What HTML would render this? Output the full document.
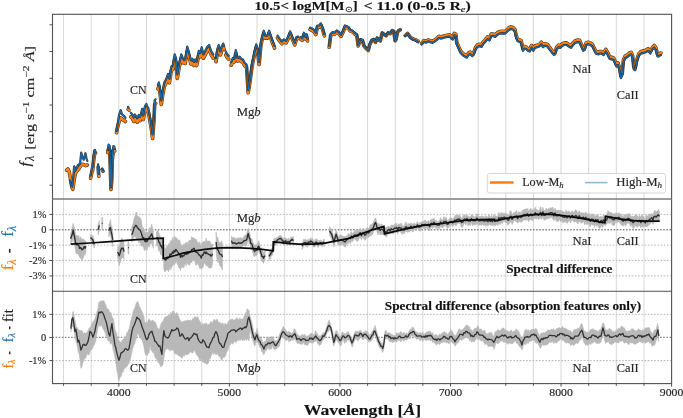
<!DOCTYPE html><html><head><meta charset="utf-8"><style>html,body{margin:0;padding:0;background:#fff;}body{width:683px;height:418px;overflow:hidden;font-family:"Liberation Serif",serif;}svg{display:block;will-change:transform;}</style></head><body><svg width="683" height="418" viewBox="0 0 683 418"><g stroke="#bdbdbd" stroke-width="1.0" stroke-dasharray="1.2,0.8"><line x1="63.56" y1="14.3" x2="63.56" y2="383.6" /><line x1="91.19" y1="14.3" x2="91.19" y2="383.6" /><line x1="118.83" y1="14.3" x2="118.83" y2="383.6" /><line x1="146.47" y1="14.3" x2="146.47" y2="383.6" /><line x1="174.11" y1="14.3" x2="174.11" y2="383.6" /><line x1="201.75" y1="14.3" x2="201.75" y2="383.6" /><line x1="229.39" y1="14.3" x2="229.39" y2="383.6" /><line x1="257.02" y1="14.3" x2="257.02" y2="383.6" /><line x1="284.66" y1="14.3" x2="284.66" y2="383.6" /><line x1="312.3" y1="14.3" x2="312.3" y2="383.6" /><line x1="339.94" y1="14.3" x2="339.94" y2="383.6" /><line x1="367.58" y1="14.3" x2="367.58" y2="383.6" /><line x1="395.22" y1="14.3" x2="395.22" y2="383.6" /><line x1="422.85" y1="14.3" x2="422.85" y2="383.6" /><line x1="450.49" y1="14.3" x2="450.49" y2="383.6" /><line x1="478.13" y1="14.3" x2="478.13" y2="383.6" /><line x1="505.77" y1="14.3" x2="505.77" y2="383.6" /><line x1="533.41" y1="14.3" x2="533.41" y2="383.6" /><line x1="561.05" y1="14.3" x2="561.05" y2="383.6" /><line x1="588.68" y1="14.3" x2="588.68" y2="383.6" /><line x1="616.32" y1="14.3" x2="616.32" y2="383.6" /><line x1="643.96" y1="14.3" x2="643.96" y2="383.6" /></g><g stroke="#b0b0b0" stroke-width="0.9" stroke-dasharray="1.6,1.6"><line x1="52.5" y1="214.38" x2="671.6" y2="214.38"/><line x1="52.5" y1="245.15" x2="671.6" y2="245.15"/><line x1="52.5" y1="260.53" x2="671.6" y2="260.53"/><line x1="52.5" y1="275.92" x2="671.6" y2="275.92"/><line x1="52.5" y1="314.38" x2="671.6" y2="314.38"/><line x1="52.5" y1="360.53" x2="671.6" y2="360.53"/></g><g stroke="#888" stroke-width="1.3" stroke-dasharray="1.6,1.5"><line x1="52.5" y1="229.77" x2="671.6" y2="229.77"/><line x1="52.5" y1="337.45" x2="671.6" y2="337.45"/></g><g fill="none" stroke-linejoin="round" stroke-linecap="round"><path d="M66.6 170.3 L67.9 169 L69.2 171.6 L70.6 179.5 L71.9 187.4 L72.8 189.3 L73.8 182.1 L75.2 173.6 L76.5 171.6 L78.4 169.6 L80.4 166.3 L81.7 164.3 L83 164.3 L84.4 165 L85.7 165.7 L87.3 165 M90.6 178.2 L91.9 172 L92.6 170.5 L93.2 165 L94.2 156 L95 152.5 L95.5 153 M98.1 167 L98.8 176.2 M102.1 169.5 L103.1 171.3 M107.7 152.5 L108.6 149 L109.7 150 L110.4 170 L111 189.4 L111.7 181 L112.3 160 L113.4 150 L114.3 150 L114.7 151 M116.5 132.8 L117.4 128 L119 122 L120.7 117.8 L122.4 119.4 L124.9 121.1 L125.4 121.5 M128.2 109.4 L128.9 110 M130.8 116.7 L132.4 118.4 L133.8 121.5 L135 118.5 L136.2 120.5 L137.3 122.2 L138.8 119 L140.2 120.5 L141.2 117 L142.2 112.8 L143.3 119.5 L144.2 114 L145 110 L146.3 108 L147.3 110.5 L148.4 112.5 L149.5 118.4 L151.2 128 L152.6 138.5 L153.9 120.9 L154.7 104.2 L155.6 103.3 M157.9 89 L158.9 86.5 L160.1 93.5 L161.3 104.5 L162.6 95.5 L164.3 86.5 L166.2 83 L168 77.8 L169.4 82.8 L171.3 70.6 L173 69.1 L174.7 58.4 L176.1 62.7 L177.3 78.5 L179.2 67 L181.3 58.4 L183 62.7 L185.2 63.4 L187.3 50.5 L189.5 58.4 L190.9 64.1 L192.4 62.7 L193.8 65.5 L195.2 63.4 L196.7 65.5 L198.8 54.8 L200.3 56.89 L201.7 51.16 L203.4 58.31 L205.3 54.67 L207.5 50.31 L209.2 48.77 L211 54.52 L213.2 58.07 M216 61.6 L217.5 52.16 L218.7 48.53 L220.4 54.99 L221.8 49.95 L223.2 47.02 L224.2 49.4 M225.7 54.86 L226.9 57.03 L228.6 59.19 M231.2 65.22 L232.9 61.18 L234.4 61.84 L235.8 53.2 L237.5 61.06 L239.4 59.62 L241.3 61.67 L243 62.32 L244.7 65.88 L246.6 67.33 L248.2 92.8 L250.2 80.15 L251.9 67.2 L253.8 57.76 L256.2 46.99 L257.6 51.26 L259.1 64.52 L260.9 45.39 L262.4 38.17 L263.8 33.15 L265.2 38.14 L267.4 38.11 L269.1 33.09 L271 38.86 L272.9 43.84 L274.6 48.12 M277.5 37.98 L279.6 40.86 L281.8 43.73 L283.9 41.5 L286.1 42.97 L288.2 38.65 L290.1 33.52 L291.8 37.8 L293.3 41.38 L294.7 44.97 L296.5 39.04 L297.9 38.53 M300.5 38.99 L302.2 40.38 L303.9 34.66 L305.3 38.94 L306.5 36.03 L307.6 41.02 M310.1 29.49 L312 30.27 L314 31.64 L315.8 34.52 L317.3 27.31 L319.1 27.29 L320.9 25.07 L322.6 29.35 L324.4 35.83 M329.2 47.28 L330.6 35.76 L332.6 33.64 L334.5 34.32 L336.7 32.09 L338.8 33.57 L341 36.34 L343.1 32.02 L345 27 L346.7 27.64 L348.4 28.28 L350.3 31.11 L352.5 31.73 L354.6 33.85 L356.8 35.17 L358.2 45.92 L360.4 40.04 L362.5 40.76 L364.2 46.4 L366.1 48.53 L368.2 50.55 L369.7 44.79 L371.8 40.42 L374 39.54 L375.5 42.39 L377.2 38.06 L378.9 40.24 L380.3 40.92 L382.2 32.98 L384.1 34.35 L386.1 35.72 L388 32.89 L390.1 33.56 L392.3 30.62 L393.7 31.3 L395.1 40.68 L396.1 39.16 L397.3 32.74 L398.7 30.52 L400.2 29.8 M405.2 35.5 L407.6 33.4 L410.2 37 L413.1 39.1 L416 39.9 L418.1 41.3 M421.7 43.4 L423.9 40.6 L426 41.3 L428.2 39.9 L430.3 40.6 L432.5 41.3 L434.6 39.9 L436.8 38.4 L438.9 36.3 L441.1 37 L443.2 36.3 L446.1 35.5 L449.7 34.8 L451.5 37 L452.9 37.7 L454.3 33.4 L455.8 34.1 L456.8 42.7 L458.2 45.6 L459.4 48.5 L460.8 51.3 L463 53.5 L465.1 54.9 L466.8 55.7 L468.7 52.8 L470.1 52.1 L472.3 54.2 L473.7 52.8 L475.4 47.8 L477.3 44.9 L479.5 44.2 L481.6 44.9 L483.1 42 L485.2 39.9 L487.4 37 L489.5 38.4 L491.2 34.1 L493.1 34.1 L495.3 34.8 L497.4 32.7 L499.6 31.5 L502.5 31.2 L505.3 31.5 L508.2 28.4 L510.8 26.9 L513.2 27.6 L515.1 29.8 L516.1 35.5 L517.5 39.1 L519.7 39.9 L521.1 40.6 L522.9 48.7 L524.6 46.5 L526.5 47.2 L527.9 48.7 L529.8 49.4 L531.5 45.5 L533.2 48.7 L535.1 45.8 L537.2 45.1 L539.4 44.4 L541.3 42.2 L543 45.1 L545.1 43.6 L547.3 44.4 L549.4 47.2 L551.6 50.1 L553.8 52.7 L555.2 52.3 L556.6 47.2 L558.5 45.1 L560.2 45.8 L562.4 43.6 L564.5 42.9 L566.7 42.9 L568.8 44.4 L571 45.8 L573.1 42.9 L575.3 40.8 L577.5 40.1 L579.6 40.3 L581 43.6 L583.2 48.7 L584.6 48 L586.1 42.9 L588.2 42.2 L590.4 42.9 L592.5 44.4 L594.4 48.7 L596.1 51.5 L598.3 52.3 L600 51.5 L601.5 51.5 L603.6 53 L605.8 49.4 L607.9 53 L609.4 56.6 L611.5 57.3 L613.7 58 L615.1 61.6 L616.5 64.5 L618 63 L619.4 67.3 L620.9 76 L622.3 73.1 L623.4 60.2 L625.2 55.9 L627.3 55.1 L629.5 53 L631.2 52.3 L632.6 55.9 L633.8 67.3 L635.2 68.1 L636.7 60.2 L638.8 53.7 L641 51.5 L643.8 50.8 L646 50.1 L648.1 48.7 L650.3 51.5 L652.5 47.2 L654.2 45.5 L656 48 L657.5 54.4 L658.9 54.4 L660.4 53 L661 53" stroke="#2e2418" stroke-opacity="0.9" stroke-width="3.6"/><path d="M66.6 170.3 L67.9 169 L69.2 171.6 L70.6 179.5 L71.9 187.4 L72.8 189.3 L73.8 182.1 L75.2 173.6 L76.5 171.6 L78.4 169.6 L80.4 166.3 L81.7 164.3 L83 164.3 L84.4 165 L85.7 165.7 L87.3 165 M90.6 178.2 L91.9 172 L92.6 170.5 L93.2 165 L94.2 156 L95 152.5 L95.5 153 M98.1 167 L98.8 176.2 M102.1 169.5 L103.1 171.3 M107.7 152.5 L108.6 149 L109.7 150 L110.4 170 L111 189.4 L111.7 181 L112.3 160 L113.4 150 L114.3 150 L114.7 151 M116.5 132.8 L117.4 128 L119 122 L120.7 117.8 L122.4 119.4 L124.9 121.1 L125.4 121.5 M128.2 109.4 L128.9 110 M130.8 116.7 L132.4 118.4 L133.8 121.5 L135 118.5 L136.2 120.5 L137.3 122.2 L138.8 119 L140.2 120.5 L141.2 117 L142.2 112.8 L143.3 119.5 L144.2 114 L145 110 L146.3 108 L147.3 110.5 L148.4 112.5 L149.5 118.4 L151.2 128 L152.6 138.5 L153.9 120.9 L154.7 104.2 L155.6 103.3 M157.9 89 L158.9 86.5 L160.1 93.5 L161.3 104.5 L162.6 95.5 L164.3 86.5 L166.2 83 L168 77.8 L169.4 82.8 L171.3 70.6 L173 69.1 L174.7 58.4 L176.1 62.7 L177.3 78.5 L179.2 67 L181.3 58.4 L183 62.7 L185.2 63.4 L187.3 50.5 L189.5 58.4 L190.9 64.1 L192.4 62.7 L193.8 65.5 L195.2 63.4 L196.7 65.5 L198.8 54.8 L200.3 56.89 L201.7 51.16 L203.4 58.31 L205.3 54.67 L207.5 50.31 L209.2 48.77 L211 54.52 L213.2 58.07 M216 61.6 L217.5 52.16 L218.7 48.53 L220.4 54.99 L221.8 49.95 L223.2 47.02 L224.2 49.4 M225.7 54.86 L226.9 57.03 L228.6 59.19 M231.2 65.22 L232.9 61.18 L234.4 61.84 L235.8 53.2 L237.5 61.06 L239.4 59.62 L241.3 61.67 L243 62.32 L244.7 65.88 L246.6 67.33 L248.2 92.8 L250.2 80.15 L251.9 67.2 L253.8 57.76 L256.2 46.99 L257.6 51.26 L259.1 64.52 L260.9 45.39 L262.4 38.17 L263.8 33.15 L265.2 38.14 L267.4 38.11 L269.1 33.09 L271 38.86 L272.9 43.84 L274.6 48.12 M277.5 37.98 L279.6 40.86 L281.8 43.73 L283.9 41.5 L286.1 42.97 L288.2 38.65 L290.1 33.52 L291.8 37.8 L293.3 41.38 L294.7 44.97 L296.5 39.04 L297.9 38.53 M300.5 38.99 L302.2 40.38 L303.9 34.66 L305.3 38.94 L306.5 36.03 L307.6 41.02 M310.1 29.49 L312 30.27 L314 31.64 L315.8 34.52 L317.3 27.31 L319.1 27.29 L320.9 25.07 L322.6 29.35 L324.4 35.83 M329.2 47.28 L330.6 35.76 L332.6 33.64 L334.5 34.32 L336.7 32.09 L338.8 33.57 L341 36.34 L343.1 32.02 L345 27 L346.7 27.64 L348.4 28.28 L350.3 31.11 L352.5 31.73 L354.6 33.85 L356.8 35.17 L358.2 45.92 L360.4 40.04 L362.5 40.76 L364.2 46.4 L366.1 48.53 L368.2 50.55 L369.7 44.79 L371.8 40.42 L374 39.54 L375.5 42.39 L377.2 38.06 L378.9 40.24 L380.3 40.92 L382.2 32.98 L384.1 34.35 L386.1 35.72 L388 32.89 L390.1 33.56 L392.3 30.62 L393.7 31.3 L395.1 40.68 L396.1 39.16 L397.3 32.74 L398.7 30.52 L400.2 29.8 M405.2 35.5 L407.6 33.4 L410.2 37 L413.1 39.1 L416 39.9 L418.1 41.3 M421.7 43.4 L423.9 40.6 L426 41.3 L428.2 39.9 L430.3 40.6 L432.5 41.3 L434.6 39.9 L436.8 38.4 L438.9 36.3 L441.1 37 L443.2 36.3 L446.1 35.5 L449.7 34.8 L451.5 37 L452.9 37.7 L454.3 33.4 L455.8 34.1 L456.8 42.7 L458.2 45.6 L459.4 48.5 L460.8 51.3 L463 53.5 L465.1 54.9 L466.8 55.7 L468.7 52.8 L470.1 52.1 L472.3 54.2 L473.7 52.8 L475.4 47.8 L477.3 44.9 L479.5 44.2 L481.6 44.9 L483.1 42 L485.2 39.9 L487.4 37 L489.5 38.4 L491.2 34.1 L493.1 34.1 L495.3 34.8 L497.4 32.7 L499.6 31.5 L502.5 31.2 L505.3 31.5 L508.2 28.4 L510.8 26.9 L513.2 27.6 L515.1 29.8 L516.1 35.5 L517.5 39.1 L519.7 39.9 L521.1 40.6 L522.9 48.7 L524.6 46.5 L526.5 47.2 L527.9 48.7 L529.8 49.4 L531.5 45.5 L533.2 48.7 L535.1 45.8 L537.2 45.1 L539.4 44.4 L541.3 42.2 L543 45.1 L545.1 43.6 L547.3 44.4 L549.4 47.2 L551.6 50.1 L553.8 52.7 L555.2 52.3 L556.6 47.2 L558.5 45.1 L560.2 45.8 L562.4 43.6 L564.5 42.9 L566.7 42.9 L568.8 44.4 L571 45.8 L573.1 42.9 L575.3 40.8 L577.5 40.1 L579.6 40.3 L581 43.6 L583.2 48.7 L584.6 48 L586.1 42.9 L588.2 42.2 L590.4 42.9 L592.5 44.4 L594.4 48.7 L596.1 51.5 L598.3 52.3 L600 51.5 L601.5 51.5 L603.6 53 L605.8 49.4 L607.9 53 L609.4 56.6 L611.5 57.3 L613.7 58 L615.1 61.6 L616.5 64.5 L618 63 L619.4 67.3 L620.9 76 L622.3 73.1 L623.4 60.2 L625.2 55.9 L627.3 55.1 L629.5 53 L631.2 52.3 L632.6 55.9 L633.8 67.3 L635.2 68.1 L636.7 60.2 L638.8 53.7 L641 51.5 L643.8 50.8 L646 50.1 L648.1 48.7 L650.3 51.5 L652.5 47.2 L654.2 45.5 L656 48 L657.5 54.4 L658.9 54.4 L660.4 53 L661 53" stroke="#ff7f0e" stroke-width="2.4"/><path d="M69.9 180.5 L71.2 185 L72.2 186.5 L73.2 178.2 L74.1 166.3 L75.1 171 L76.5 167.5 L77.6 165.8 L78.7 164.4 L80.1 163.7 L81.2 152.5 L82.4 157.1 L83.7 159.7 L85.4 153.2 L86.5 158.5 L87.3 161 M90.6 175.6 L91.9 167.7 L92.6 167 L93.2 159.8 L94.2 150.5 L95 149.9 L95.5 152.5 M98.1 164.4 L98.8 174 M102.1 168.7 L103.1 170.5 M107.7 150 L108.6 144.6 L109.7 146 L110.4 166 L111 187.5 L111.7 179 L112.3 156 L113.4 146 L114.3 146.6 L114.7 149 M116.5 131 L117.4 125.3 L119 115.2 L120.7 110.2 L122 114.4 L123.2 115.2 L124.9 116.9 L125.4 117.8 M127.9 106.9 L128.6 107.5 M130.8 112.7 L132.4 114.4 L133.8 117.5 L135 114.5 L136.2 116.5 L137.3 118.2 L138.8 115 L140.2 116.5 L141.2 113 L142.2 108.8 L143.3 115.5 L144.2 110 L145 106 L146.3 104 L147.3 106.5 L148.4 108.5 L149.5 114.4 L151.2 124 L152.6 134.5 L153.9 116.9 L154.7 100.2 L155.6 99.3 M157.9 85 L158.9 82.5 L160.1 89.5 L161.3 100.5 L162.6 91.5 L164.3 82.5 L166.2 79 L168 73.8 L169.4 78.8 L171.3 66.6 L173 65.1 L174.7 54.4 L176.1 58.7 L177.3 74.5 L179.2 63 L181.3 54.4 L183 58.7 L185.2 59.4 L187.3 46.5 L189.5 54.4 L190.9 60.1 L192.4 58.7 L193.8 61.5 L195.2 59.4 L196.7 61.5 L198.8 50.8 L200.3 52.9 L201.7 47.2 L203.4 54.4 L205.3 50.8 L207.5 46.5 L209.2 45 L211 50.8 L213.2 54.4 M216 58 L217.5 48.6 L218.7 45 L220.4 51.5 L221.8 46.5 L223.2 43.6 L224.2 46 M225.7 51.5 L226.9 53.7 L228.6 55.9 M231.2 62 L232.9 58 L234.4 58.7 L235.8 50.1 L237.5 58 L239.4 56.6 L241.3 58.7 L243 59.4 L244.7 63 L246.6 64.5 L248.2 90 L250.2 77.4 L251.9 64.5 L253.8 55.1 L256.2 44.4 L257.6 48.7 L259.1 62 L260.9 42.9 L262.4 35.7 L263.8 30.7 L265.2 35.7 L267.4 35.7 L269.1 30.7 L271 36.5 L272.9 41.5 L274.6 45.8 M277.5 35.7 L279.6 38.6 L281.8 41.5 L283.9 39.3 L286.1 40.8 L288.2 36.5 L290.1 31.4 L291.8 35.7 L293.3 39.3 L294.7 42.9 L296.5 37 L297.9 36.5 M300.5 37 L302.2 38.4 L303.9 32.7 L305.3 37 L306.5 34.1 L307.6 39.1 M310.1 27.6 L312 28.4 L314 29.8 L315.8 32.7 L317.3 25.5 L319.1 25.5 L320.9 23.3 L322.6 27.6 L324.4 34.1 M329.2 45.6 L330.6 34.1 L332.6 32 L334.5 32.7 L336.7 30.5 L338.8 32 L341 34.8 L343.1 30.5 L345 25.5 L346.7 26.2 L348.4 26.9 L350.3 29.8 L352.5 30.5 L354.6 32.7 L356.8 34.1 L358.2 44.9 L360.4 39.1 L362.5 39.9 L364.2 45.6 L366.1 47.8 L368.2 49.9 L369.7 44.2 L371.8 39.9 L374 39.1 L375.5 42 L377.2 37.7 L378.9 39.9 L380.3 40.6 L382.2 32.7 L384.1 34.1 L386.1 35.5 L388 32.7 L390.1 33.4 L392.3 30.5 L393.7 31.2 L395.1 40.6 L396.1 39.1 L397.3 32.7 L398.7 30.5 L400.2 29.81 M405.2 35.78 L407.6 33.81 L410.2 37.54 L413.1 39.8 L416 40.75 L418.1 42.27 M421.7 44.56 L423.9 41.87 L426 42.69 L428.2 41.4 L430.3 42.2 L432.5 42.92 L434.6 41.55 L436.8 40.07 L438.9 37.99 L441.1 38.71 L443.2 38.03 L446.1 37.26 L449.7 36.6 L451.5 38.81 L452.9 39.53 L454.3 35.24 L455.8 35.96 L456.8 44.57 L458.2 47.48 L459.4 50.39 L460.8 53.21 L463 55.43 L465.1 56.85 L466.8 57.67 L468.7 54.79 L470.1 54.1 L472.3 56.22 L473.7 54.84 L475.4 49.85 L477.3 46.97 L479.5 46.3 L481.6 47 L483.1 44.1 L485.2 42 L487.4 39.1 L489.5 40.5 L491.2 36.2 L493.1 36.2 L495.3 36.9 L497.4 34.8 L499.6 33.6 L502.5 33.3 L505.3 33.6 L508.2 30.5 L510.8 29 L513.2 29.7 L515.1 31.9 L516.1 37.6 L517.5 41.2 L519.7 42 L521.1 42.7 L522.9 50.8 L524.6 48.6 L526.5 49.3 L527.9 50.8 L529.8 51.5 L531.5 47.6 L533.2 50.8 L535.1 47.9 L537.2 47.2 L539.4 46.5 L541.3 44.3 L543 47.2 L545.1 45.7 L547.3 46.5 L549.4 49.3 L551.6 52.2 L553.8 54.8 L555.2 54.4 L556.6 49.3 L558.5 47.2 L560.2 47.9 L562.4 45.7 L564.5 45 L566.7 45 L568.8 46.5 L571 47.9 L573.1 45 L575.3 42.9 L577.5 42.2 L579.6 42.4 L581 45.7 L583.2 50.8 L584.6 50.1 L586.1 45 L588.2 44.3 L590.4 45 L592.5 46.5 L594.4 50.8 L596.1 53.6 L598.3 54.4 L600 53.6 L601.5 53.6 L603.6 55.1 L605.8 51.5 L607.9 55.1 L609.4 58.7 L611.5 59.4 L613.7 60.1 L615.1 63.7 L616.5 66.6 L618 65.1 L619.4 69.4 L620.9 78.1 L622.3 75.2 L623.4 62.3 L625.2 58 L627.3 57.2 L629.5 55.1 L631.2 54.4 L632.6 58 L633.8 69.4 L635.2 70.2 L636.7 62.3 L638.8 55.8 L641 53.6 L643.8 52.9 L646 52.2 L648.1 50.8 L650.3 53.6 L652.5 49.3 L654.2 47.6 L656 50.1 L657.5 56.5 L658.9 56.5 L660.4 55.1 L661 55.1" stroke="#1c2530" stroke-opacity="0.9" stroke-width="2.2"/><path d="M69.9 180.5 L71.2 185 L72.2 186.5 L73.2 178.2 L74.1 166.3 L75.1 171 L76.5 167.5 L77.6 165.8 L78.7 164.4 L80.1 163.7 L81.2 152.5 L82.4 157.1 L83.7 159.7 L85.4 153.2 L86.5 158.5 L87.3 161 M90.6 175.6 L91.9 167.7 L92.6 167 L93.2 159.8 L94.2 150.5 L95 149.9 L95.5 152.5 M98.1 164.4 L98.8 174 M102.1 168.7 L103.1 170.5 M107.7 150 L108.6 144.6 L109.7 146 L110.4 166 L111 187.5 L111.7 179 L112.3 156 L113.4 146 L114.3 146.6 L114.7 149 M116.5 131 L117.4 125.3 L119 115.2 L120.7 110.2 L122 114.4 L123.2 115.2 L124.9 116.9 L125.4 117.8 M127.9 106.9 L128.6 107.5 M130.8 112.7 L132.4 114.4 L133.8 117.5 L135 114.5 L136.2 116.5 L137.3 118.2 L138.8 115 L140.2 116.5 L141.2 113 L142.2 108.8 L143.3 115.5 L144.2 110 L145 106 L146.3 104 L147.3 106.5 L148.4 108.5 L149.5 114.4 L151.2 124 L152.6 134.5 L153.9 116.9 L154.7 100.2 L155.6 99.3 M157.9 85 L158.9 82.5 L160.1 89.5 L161.3 100.5 L162.6 91.5 L164.3 82.5 L166.2 79 L168 73.8 L169.4 78.8 L171.3 66.6 L173 65.1 L174.7 54.4 L176.1 58.7 L177.3 74.5 L179.2 63 L181.3 54.4 L183 58.7 L185.2 59.4 L187.3 46.5 L189.5 54.4 L190.9 60.1 L192.4 58.7 L193.8 61.5 L195.2 59.4 L196.7 61.5 L198.8 50.8 L200.3 52.9 L201.7 47.2 L203.4 54.4 L205.3 50.8 L207.5 46.5 L209.2 45 L211 50.8 L213.2 54.4 M216 58 L217.5 48.6 L218.7 45 L220.4 51.5 L221.8 46.5 L223.2 43.6 L224.2 46 M225.7 51.5 L226.9 53.7 L228.6 55.9 M231.2 62 L232.9 58 L234.4 58.7 L235.8 50.1 L237.5 58 L239.4 56.6 L241.3 58.7 L243 59.4 L244.7 63 L246.6 64.5 L248.2 90 L250.2 77.4 L251.9 64.5 L253.8 55.1 L256.2 44.4 L257.6 48.7 L259.1 62 L260.9 42.9 L262.4 35.7 L263.8 30.7 L265.2 35.7 L267.4 35.7 L269.1 30.7 L271 36.5 L272.9 41.5 L274.6 45.8 M277.5 35.7 L279.6 38.6 L281.8 41.5 L283.9 39.3 L286.1 40.8 L288.2 36.5 L290.1 31.4 L291.8 35.7 L293.3 39.3 L294.7 42.9 L296.5 37 L297.9 36.5 M300.5 37 L302.2 38.4 L303.9 32.7 L305.3 37 L306.5 34.1 L307.6 39.1 M310.1 27.6 L312 28.4 L314 29.8 L315.8 32.7 L317.3 25.5 L319.1 25.5 L320.9 23.3 L322.6 27.6 L324.4 34.1 M329.2 45.6 L330.6 34.1 L332.6 32 L334.5 32.7 L336.7 30.5 L338.8 32 L341 34.8 L343.1 30.5 L345 25.5 L346.7 26.2 L348.4 26.9 L350.3 29.8 L352.5 30.5 L354.6 32.7 L356.8 34.1 L358.2 44.9 L360.4 39.1 L362.5 39.9 L364.2 45.6 L366.1 47.8 L368.2 49.9 L369.7 44.2 L371.8 39.9 L374 39.1 L375.5 42 L377.2 37.7 L378.9 39.9 L380.3 40.6 L382.2 32.7 L384.1 34.1 L386.1 35.5 L388 32.7 L390.1 33.4 L392.3 30.5 L393.7 31.2 L395.1 40.6 L396.1 39.1 L397.3 32.7 L398.7 30.5 L400.2 29.81 M405.2 35.78 L407.6 33.81 L410.2 37.54 L413.1 39.8 L416 40.75 L418.1 42.27 M421.7 44.56 L423.9 41.87 L426 42.69 L428.2 41.4 L430.3 42.2 L432.5 42.92 L434.6 41.55 L436.8 40.07 L438.9 37.99 L441.1 38.71 L443.2 38.03 L446.1 37.26 L449.7 36.6 L451.5 38.81 L452.9 39.53 L454.3 35.24 L455.8 35.96 L456.8 44.57 L458.2 47.48 L459.4 50.39 L460.8 53.21 L463 55.43 L465.1 56.85 L466.8 57.67 L468.7 54.79 L470.1 54.1 L472.3 56.22 L473.7 54.84 L475.4 49.85 L477.3 46.97 L479.5 46.3 L481.6 47 L483.1 44.1 L485.2 42 L487.4 39.1 L489.5 40.5 L491.2 36.2 L493.1 36.2 L495.3 36.9 L497.4 34.8 L499.6 33.6 L502.5 33.3 L505.3 33.6 L508.2 30.5 L510.8 29 L513.2 29.7 L515.1 31.9 L516.1 37.6 L517.5 41.2 L519.7 42 L521.1 42.7 L522.9 50.8 L524.6 48.6 L526.5 49.3 L527.9 50.8 L529.8 51.5 L531.5 47.6 L533.2 50.8 L535.1 47.9 L537.2 47.2 L539.4 46.5 L541.3 44.3 L543 47.2 L545.1 45.7 L547.3 46.5 L549.4 49.3 L551.6 52.2 L553.8 54.8 L555.2 54.4 L556.6 49.3 L558.5 47.2 L560.2 47.9 L562.4 45.7 L564.5 45 L566.7 45 L568.8 46.5 L571 47.9 L573.1 45 L575.3 42.9 L577.5 42.2 L579.6 42.4 L581 45.7 L583.2 50.8 L584.6 50.1 L586.1 45 L588.2 44.3 L590.4 45 L592.5 46.5 L594.4 50.8 L596.1 53.6 L598.3 54.4 L600 53.6 L601.5 53.6 L603.6 55.1 L605.8 51.5 L607.9 55.1 L609.4 58.7 L611.5 59.4 L613.7 60.1 L615.1 63.7 L616.5 66.6 L618 65.1 L619.4 69.4 L620.9 78.1 L622.3 75.2 L623.4 62.3 L625.2 58 L627.3 57.2 L629.5 55.1 L631.2 54.4 L632.6 58 L633.8 69.4 L635.2 70.2 L636.7 62.3 L638.8 55.8 L641 53.6 L643.8 52.9 L646 52.2 L648.1 50.8 L650.3 53.6 L652.5 49.3 L654.2 47.6 L656 50.1 L657.5 56.5 L658.9 56.5 L660.4 55.1 L661 55.1" stroke="#1d6aa3" stroke-width="1.25"/></g><path d="M70.7 233.28 L71.5 230.43 L72.3 226.8 L73.1 223.45 L73.9 226.28 L74.7 229.12 L75.5 234.24 L76.3 235.48 L77.1 235.25 L77.9 236.15 L78.7 235.36 L79.5 239.64 L80.3 236.57 L81.1 239.11 L81.9 238.48 L82.7 239.66 L83.5 238.65 L84.3 240.15 L85.1 241.23 L85.9 240.82 L85.9 251.83 L85.1 255.36 L84.3 253.06 L83.5 257.53 L82.7 258.99 L81.9 261.21 L81.1 257.11 L80.3 258.59 L79.5 257.17 L78.7 255.21 L77.9 253.59 L77.1 253.63 L76.3 254.08 L75.5 250.77 L74.7 246.11 L73.9 241.75 L73.1 236.2 L72.3 241.72 L71.5 241.93 L70.7 244.15Z M90.5 234.5 L92.7 235.7 L94.3 240.2 L94.3 248.2 L92.7 243.7 L90.5 240.5Z M98 224.8 L99.4 220.4 L99.4 230.4 L98 234.8Z M101.8 217.2 L102.6 217.5 L102.6 229.5 L101.8 229.2Z M108.8 224.83 L109.6 222.7 L110.4 219.5 L111.2 225.06 L112 227.33 L112.8 232.65 L112.8 246.86 L112 243.05 L111.2 238.88 L110.4 235.45 L109.6 234.63 L108.8 236.68Z M117.6 246.93 L118.4 246.39 L119.2 246.05 L120 243.4 L120.8 239.68 L121.6 238.02 L122.4 239.19 L123.2 239.78 L124 243.83 L124 259.39 L123.2 256.42 L122.4 257.9 L121.6 258.36 L120.8 260.31 L120 263.42 L119.2 265.68 L118.4 260.61 L117.6 256.95Z M128 241.5 L128.8 242 L128.8 254 L128 253.5Z M131.7 227.35 L132.5 224.7 L133.3 222.45 L134.1 218.12 L134.9 216.91 L135.7 213.1 L136.5 212.03 L137.3 215.59 L138.1 217.12 L138.9 216.21 L139.7 217.8 L140.5 217.92 L141.3 220.19 L142.1 225.79 L142.9 229.12 L143.7 227.61 L144.5 230.24 L145.3 233.33 L146.1 231.44 L146.9 232.93 L147.7 232.22 L148.5 231.91 L149.3 227.55 L150.1 228.93 L150.9 227.71 L151.7 224.01 L152.5 227.59 L153.3 230.73 L153.3 248.45 L152.5 245.12 L151.7 243.53 L150.9 242.74 L150.1 244.57 L149.3 246.72 L148.5 245.97 L147.7 247.95 L146.9 250.66 L146.1 247.37 L145.3 250.01 L144.5 250.8 L143.7 247.76 L142.9 246.69 L142.1 245.87 L141.3 246.03 L140.5 243.87 L139.7 241.65 L138.9 242.92 L138.1 239.23 L137.3 239.92 L136.5 239.65 L135.7 237.53 L134.9 236.27 L134.1 236.94 L133.3 238.75 L132.5 241.22 L131.7 242.16Z M156.5 232 L157.3 231.25 L158.1 229.8 L158.9 233.27 L159.7 235.45 L160.5 236.53 L161.3 239.1 L162.1 241.29 L162.1 256.04 L161.3 252.48 L160.5 254.9 L159.7 250.02 L158.9 251.3 L158.1 248.56 L157.3 244.02 L156.5 245.65Z M163.7 248.51 L164.5 246.22 L165.3 248.82 L166.1 248.75 L166.9 245.14 L167.7 246.89 L168.5 243.52 L169.3 244.74 L170.1 241.99 L170.9 240.29 L171.7 241.01 L172.5 237.62 L173.3 241.88 L174.1 236.24 L174.9 239.72 L175.7 236.81 L176.5 238.54 L177.3 238.54 L178.1 240.36 L178.9 240.27 L179.7 239.85 L180.5 243.79 L181.3 245.22 L182.1 245.66 L182.9 244.73 L183.7 244.02 L184.5 244.46 L185.3 242.72 L186.1 242.75 L186.9 241.88 L187.7 243.66 L188.5 241.34 L189.3 240.56 L190.1 240.59 L190.9 240.48 L191.7 236.55 L192.5 238.2 L193.3 237.19 L194.1 238.08 L194.9 239.79 L195.7 238.72 L196.5 239.57 L197.3 242.37 L198.1 242.02 L198.9 244.47 L199.7 241.77 L200.5 244.7 L201.3 247.09 L202.1 242.06 L202.9 242.97 L203.7 241.27 L204.5 241.03 L205.3 243.31 L206.1 237.89 L206.9 241.68 L207.7 240.92 L208.5 240.76 L209.3 241.54 L210.1 241.07 L210.9 244.38 L211.7 243.91 L212.5 243.96 L212.5 263.43 L211.7 267.59 L210.9 267.95 L210.1 268 L209.3 268.17 L208.5 267.62 L207.7 265.98 L206.9 265.54 L206.1 265.8 L205.3 263.81 L204.5 263 L203.7 264.6 L202.9 267.86 L202.1 267.67 L201.3 269.3 L200.5 267.99 L199.7 268.29 L198.9 265.55 L198.1 264.99 L197.3 262.74 L196.5 265.13 L195.7 265.08 L194.9 261.09 L194.1 258.32 L193.3 261.03 L192.5 259.98 L191.7 262.94 L190.9 261.74 L190.1 263.58 L189.3 265.23 L188.5 264.83 L187.7 264.26 L186.9 262.49 L186.1 266.31 L185.3 263.21 L184.5 265.05 L183.7 268.04 L182.9 265.98 L182.1 268.1 L181.3 265.67 L180.5 270.79 L179.7 268.44 L178.9 268.01 L178.1 264.2 L177.3 264.82 L176.5 261.31 L175.7 262.26 L174.9 264.23 L174.1 264.89 L173.3 264.61 L172.5 266.29 L171.7 266.87 L170.9 270.01 L170.1 265.92 L169.3 269.68 L168.5 271.91 L167.7 270.12 L166.9 269.86 L166.1 270.5 L165.3 271.58 L164.5 271.9 L163.7 267.84Z M216.1 231.8 L216.9 239.56 L217.7 236.83 L218.5 241.32 L219.3 241.89 L220.1 242.53 L220.9 242.9 L221.7 241.24 L222.5 243.85 L222.5 270.16 L221.7 268.45 L220.9 266.24 L220.1 266.11 L219.3 264.48 L218.5 260.56 L217.7 262.32 L216.9 258.38 L216.1 252.25Z M231.5 236.13 L232.3 237.38 L233.1 238.14 L233.9 237.1 L234.7 237.98 L235.5 239.1 L236.3 239.07 L237.1 237.79 L237.9 239.18 L238.7 237.44 L239.5 237.96 L240.3 237.46 L241.1 237.65 L241.9 238.87 L242.7 237.98 L243.5 237.25 L244.3 235.99 L245.1 234.88 L245.9 234.78 L246.7 234.13 L247.5 229.51 L248.3 228.21 L249.1 231.42 L249.9 233.64 L250.7 239.24 L251.5 238.19 L252.3 239.57 L253.1 242.83 L253.9 244.34 L254.7 246.29 L255.5 244.85 L256.3 244 L257.1 246.03 L257.9 242.79 L258.7 240.67 L259.5 243.18 L260.3 246.9 L261.1 247.45 L261.9 251.08 L262.7 250.52 L263.5 252.92 L264.3 251.83 L265.1 250.81 L265.1 260.37 L264.3 261.11 L263.5 263.43 L262.7 262.28 L261.9 261.39 L261.1 259.55 L260.3 254.83 L259.5 253.32 L258.7 251.62 L257.9 251.2 L257.1 254.52 L256.3 256.03 L255.5 255.08 L254.7 256.6 L253.9 256.19 L253.1 253.81 L252.3 250.61 L251.5 249.2 L250.7 247.34 L249.9 244.07 L249.1 243.63 L248.3 238.85 L247.5 241.76 L246.7 245.51 L245.9 246.11 L245.1 246.11 L244.3 245.19 L243.5 245.15 L242.7 246.31 L241.9 247.14 L241.1 247.8 L240.3 249.01 L239.5 248.14 L238.7 247.76 L237.9 247.44 L237.1 249.01 L236.3 249.03 L235.5 247.31 L234.7 248.12 L233.9 248.2 L233.1 248.42 L232.3 248.9 L231.5 245.09Z M268.9 252.16 L269.7 250.95 L270.5 250.08 L271.3 248.68 L272.1 248.34 L272.9 244.34 L273.7 239.95 L274.5 237.76 L275.3 238.67 L276.1 237.88 L276.9 237.41 L277.7 237.35 L278.5 236.26 L279.3 235.78 L280.1 235.43 L280.9 235.42 L281.7 236.51 L282.5 237.34 L283.3 238.83 L284.1 237.62 L284.9 238.57 L285.7 237.61 L286.5 239.01 L287.3 239.14 L288.1 238.97 L288.9 238.34 L289.7 240.32 L290.5 237.2 L291.3 237.38 L292.1 236.72 L292.9 237.06 L293.7 236.68 L293.7 244.07 L292.9 243.37 L292.1 241.76 L291.3 243.4 L290.5 243.92 L289.7 245.29 L288.9 244.84 L288.1 244.35 L287.3 245.01 L286.5 245.09 L285.7 243.98 L284.9 244.72 L284.1 245.1 L283.3 244.42 L282.5 243.2 L281.7 243.2 L280.9 241.94 L280.1 241.41 L279.3 241.88 L278.5 242.23 L277.7 242.1 L276.9 244.15 L276.1 244.29 L275.3 245.76 L274.5 245.26 L273.7 249.35 L272.9 253.8 L272.1 255.93 L271.3 255.93 L270.5 258.8 L269.7 259.33 L268.9 260.73Z M302 242.98 L302.8 241.7 L303.6 239.3 L304.4 240.31 L305.2 238.7 L306 240.41 L306.8 239.48 L307.6 240.63 L308.4 239.31 L309.2 239.54 L310 239.16 L310.8 237.59 L311.6 239.35 L312.4 238.5 L313.2 239.56 L314 242.64 L314.8 239.96 L315.6 238.93 L316.4 239 L317.2 239.2 L318 241.48 L318.8 240.33 L319.6 240.52 L320.4 240.06 L321.2 240.22 L322 241.76 L322.8 240.82 L323.6 239.44 L324.4 239.52 L324.4 246.73 L323.6 245.22 L322.8 245.82 L322 246.78 L321.2 245.68 L320.4 245.45 L319.6 245.4 L318.8 245.87 L318 247.68 L317.2 246.23 L316.4 245.39 L315.6 246.03 L314.8 246.82 L314 247.4 L313.2 246.42 L312.4 245.58 L311.6 244.17 L310.8 244.56 L310 245.15 L309.2 244.36 L308.4 244.95 L307.6 247.34 L306.8 246.4 L306 246.58 L305.2 246.1 L304.4 245.24 L303.6 246.73 L302.8 247.72 L302 249.34Z M329.5 226.53 L330.6 228.26 L331.7 228.96 L332.8 233.54 L333.9 237.4 L335 233.3 L336.1 230.54 L337.2 232.37 L338.3 237.19 L339.4 235.94 L340.5 234.75 L341.6 235.1 L342.7 236.28 L343.8 236.28 L344.9 236.7 L346 236.06 L347.1 235.98 L348.2 233.28 L349.3 234.64 L350.4 233.23 L351.5 231.53 L352.6 234.06 L353.7 232.08 L354.8 231.27 L355.9 230.18 L357 231.4 L358.1 230.84 L359.2 228.93 L360.3 228.2 L361.4 231.19 L362.5 229.06 L363.6 227.83 L364.7 230.15 L365.8 229.83 L366.9 227.34 L368 228.2 L369.1 228.13 L370.2 224.71 L371.3 224.64 L372.4 223.25 L373.5 222.37 L374.6 219.42 L375.7 217.68 L376.8 222.45 L377.9 224.24 L379 223.21 L380.1 225.79 L381.2 224.04 L382.3 224.42 L383.4 227.11 L384.5 228.81 L385.6 227.53 L386.7 227.34 L387.8 226.66 L388.9 226.27 L390 227.53 L391.1 225.2 L392.2 225.1 L393.3 225.51 L394.4 224.32 L395.5 223.85 L396.6 223.22 L397.7 226.05 L398.8 223.83 L399.9 224.45 L401 222.99 L402.1 225.12 L403.2 225.74 L404.3 226.23 L405.4 222.56 L406.5 222.52 L407.6 225.36 L408.7 223.23 L409.8 224.29 L410.9 222.73 L412 224.24 L413.1 223.72 L414.2 223.29 L415.3 223.93 L416.4 223.78 L417.5 221.35 L418.6 223.91 L419.7 222.71 L420.8 222.32 L421.9 221.69 L423 221.81 L424.1 220.76 L425.2 219.89 L426.3 221.83 L427.4 221.9 L428.5 220.36 L429.6 222.4 L430.7 219.12 L431.8 219.59 L432.9 219.05 L434 218.12 L435.1 220.99 L436.2 220.08 L437.3 221.91 L438.4 221.35 L439.5 221.01 L440.6 217.42 L441.7 219.81 L442.8 219.99 L443.9 216.51 L445 218.65 L446.1 216.68 L447.2 220.44 L448.3 220.14 L449.4 218.32 L450.5 217.23 L451.6 218.16 L452.7 218.95 L453.8 217.82 L454.9 215.33 L456 216.08 L457.1 214.49 L458.2 215.61 L459.3 214.73 L460.4 216.29 L461.5 218.07 L462.6 217.07 L463.7 215.01 L464.8 214.82 L465.9 216.19 L467 214.74 L468.1 216.22 L469.2 216.67 L470.3 216.48 L471.4 214.75 L472.5 215.01 L473.6 216.23 L474.7 216.93 L475.8 216.21 L476.9 213.55 L478 214.66 L479.1 216.69 L480.2 216.52 L481.3 215.85 L482.4 216.57 L483.5 216.19 L484.6 217.3 L485.7 215.44 L486.8 216.47 L487.9 216.98 L489 214.26 L490.1 217.61 L491.2 215.36 L492.3 218 L493.4 214.93 L494.5 215.28 L495.6 215.64 L496.7 216.24 L497.8 216.36 L498.9 212.26 L500 215.11 L501.1 212.31 L502.2 213.08 L503.3 213.16 L504.4 213.43 L505.5 212.8 L506.6 213.83 L507.7 214.89 L508.8 215.73 L509.9 211.13 L511 210.85 L512.1 214.27 L513.2 213.29 L514.3 212.59 L515.4 211.86 L516.5 210.21 L517.6 214.38 L518.7 211.41 L519.8 212.22 L520.9 212.73 L522 211.17 L523.1 209.8 L524.2 209.59 L525.3 209.08 L526.4 208.92 L527.5 208.53 L528.6 210.8 L529.7 209.99 L530.8 208.36 L531.9 210.81 L533 208.85 L534.1 210.63 L535.2 207.36 L536.3 209.34 L537.4 209.93 L538.5 210.58 L539.6 209 L540.7 206.52 L541.8 211.63 L542.9 207.14 L544 210.55 L545.1 210.64 L546.2 208 L547.3 209.74 L548.4 208.34 L549.5 209.02 L550.6 207.27 L551.7 208.37 L552.8 207.11 L553.9 210.99 L555 208.01 L556.1 210.56 L557.2 210.2 L558.3 210.01 L559.4 210.39 L560.5 209.98 L561.6 211.17 L562.7 211.05 L563.8 211.72 L564.9 212.81 L566 210.01 L567.1 212.24 L568.2 211.12 L569.3 211.31 L570.4 212.76 L571.5 211.28 L572.6 210.98 L573.7 212.91 L574.8 210.55 L575.9 209.6 L577 211.29 L578.1 213.37 L579.2 210.5 L580.3 212.92 L581.4 212.66 L582.5 212.86 L583.6 212.89 L584.7 213.16 L585.8 211.94 L586.9 214.02 L588 214.12 L589.1 213.09 L590.2 215.63 L591.3 214.47 L592.4 214.15 L593.5 214 L594.6 216.75 L595.7 214.92 L596.8 215.64 L597.9 214.45 L599 217.22 L600.1 216.78 L601.2 215.93 L602.3 218.17 L603.4 214.63 L604.5 216.16 L605.6 215.41 L606.7 215.45 L607.8 210.53 L608.9 211.52 L610 212.8 L611.1 212.25 L612.2 213.19 L613.3 213.92 L614.4 213.67 L615.5 213.29 L616.6 212.45 L617.7 214.13 L618.8 212.72 L619.9 213.64 L621 214.04 L622.1 215.87 L623.2 216.41 L624.3 214.44 L625.4 215.32 L626.5 214.9 L627.6 213.88 L628.7 213.86 L629.8 213.85 L630.9 216.55 L632 215.95 L633.1 216.72 L634.2 215.88 L635.3 215.33 L636.4 214.58 L637.5 215.64 L638.6 217.3 L639.7 215.05 L640.8 217.35 L641.9 215.1 L643 215.59 L644.1 217.41 L645.2 218.66 L646.3 214.51 L647.4 216.32 L648.5 215.65 L649.6 213.78 L650.7 214.68 L651.8 213.37 L652.9 215.28 L654 211.22 L655.1 210.58 L656.2 211.93 L657.3 210.89 L658.4 209.46 L659.5 211.99 L659.5 220.91 L658.4 220.29 L657.3 220.39 L656.2 222.28 L655.1 221.79 L654 221.84 L652.9 224.35 L651.8 221.95 L650.7 223.18 L649.6 224.83 L648.5 225.25 L647.4 227.05 L646.3 226.37 L645.2 227.24 L644.1 225.45 L643 227.47 L641.9 225.73 L640.8 227.98 L639.7 225.42 L638.6 225.64 L637.5 227.22 L636.4 226.38 L635.3 225.68 L634.2 227.26 L633.1 228.69 L632 225.33 L630.9 226.51 L629.8 224.43 L628.7 223.19 L627.6 222.9 L626.5 224.27 L625.4 226.27 L624.3 224.1 L623.2 225.93 L622.1 225.39 L621 224.67 L619.9 222.91 L618.8 221.85 L617.7 222.27 L616.6 222.77 L615.5 221.78 L614.4 225.56 L613.3 225.54 L612.2 225 L611.1 221.31 L610 223.57 L608.9 223.21 L607.8 222.16 L606.7 224.57 L605.6 225.32 L604.5 224.92 L603.4 225.12 L602.3 227.73 L601.2 224.76 L600.1 228.62 L599 228.14 L597.9 225.05 L596.8 226.58 L595.7 223.97 L594.6 226.88 L593.5 224.97 L592.4 224.9 L591.3 223.98 L590.2 226.88 L589.1 224.44 L588 223.16 L586.9 225.01 L585.8 222.57 L584.7 225.05 L583.6 221.56 L582.5 222.49 L581.4 223.32 L580.3 222.16 L579.2 221.12 L578.1 224.1 L577 222.6 L575.9 221.4 L574.8 221.93 L573.7 222.06 L572.6 219.72 L571.5 220.59 L570.4 223.1 L569.3 220.2 L568.2 221.63 L567.1 223.44 L566 221.98 L564.9 221.74 L563.8 222.38 L562.7 222.74 L561.6 220.16 L560.5 221.95 L559.4 219.06 L558.3 221.52 L557.2 221.69 L556.1 220.84 L555 217.73 L553.9 220.84 L552.8 218.99 L551.7 217.02 L550.6 218.13 L549.5 217.69 L548.4 218.71 L547.3 218.83 L546.2 219.16 L545.1 219.84 L544 220.3 L542.9 216.5 L541.8 219.46 L540.7 218.16 L539.6 218.54 L538.5 219.87 L537.4 217.77 L536.3 219.31 L535.2 218.15 L534.1 218.72 L533 220.23 L531.9 220.55 L530.8 219.47 L529.7 219.85 L528.6 221.93 L527.5 219.02 L526.4 220.39 L525.3 219.88 L524.2 219.81 L523.1 220.14 L522 221.78 L520.9 222.41 L519.8 221.18 L518.7 222.49 L517.6 223.07 L516.5 221.61 L515.4 221.37 L514.3 220.35 L513.2 222.24 L512.1 224.61 L511 221.45 L509.9 222.45 L508.8 224.37 L507.7 225.21 L506.6 222.43 L505.5 222.99 L504.4 220.89 L503.3 221.87 L502.2 223.7 L501.1 222.48 L500 225.07 L498.9 222.87 L497.8 225.73 L496.7 224.19 L495.6 225.45 L494.5 226 L493.4 225.12 L492.3 225.4 L491.2 225.12 L490.1 225.26 L489 223.96 L487.9 226.41 L486.8 224.22 L485.7 226.42 L484.6 224.64 L483.5 225.49 L482.4 224.35 L481.3 225.38 L480.2 224.64 L479.1 225 L478 225.4 L476.9 222.69 L475.8 224.93 L474.7 224.8 L473.6 224.45 L472.5 225.95 L471.4 222.43 L470.3 225.79 L469.2 224.52 L468.1 225.95 L467 221.94 L465.9 225.32 L464.8 223.1 L463.7 224.4 L462.6 227.36 L461.5 227.08 L460.4 224.22 L459.3 223.39 L458.2 222.88 L457.1 224.33 L456 226.31 L454.9 224.4 L453.8 224.98 L452.7 226.56 L451.6 224.76 L450.5 225.78 L449.4 225.74 L448.3 227.68 L447.2 228.47 L446.1 225.69 L445 225.86 L443.9 226.22 L442.8 227.79 L441.7 227.6 L440.6 226.34 L439.5 229.16 L438.4 228.6 L437.3 228.04 L436.2 229.1 L435.1 227.36 L434 226.42 L432.9 228.66 L431.8 226.85 L430.7 228.42 L429.6 230.95 L428.5 227.93 L427.4 229.12 L426.3 227.9 L425.2 228.7 L424.1 229.15 L423 227.62 L421.9 227.36 L420.8 230.55 L419.7 231.32 L418.6 229.63 L417.5 228.34 L416.4 229.61 L415.3 230.73 L414.2 229.11 L413.1 231.92 L412 231.56 L410.9 229.57 L409.8 231.98 L408.7 231.72 L407.6 232.19 L406.5 231.52 L405.4 231.23 L404.3 233.96 L403.2 232.96 L402.1 234.55 L401 232.8 L399.9 231.48 L398.8 230.83 L397.7 234.11 L396.6 231.77 L395.5 232.93 L394.4 231.83 L393.3 233.72 L392.2 234.09 L391.1 232.46 L390 234.2 L388.9 232.64 L387.8 233.61 L386.7 237 L385.6 236.42 L384.5 235.66 L383.4 234.26 L382.3 234.41 L381.2 234.19 L380.1 235.02 L379 232.2 L377.9 234.93 L376.8 231.12 L375.7 227.32 L374.6 228.1 L373.5 232.56 L372.4 234.15 L371.3 235.55 L370.2 235.55 L369.1 237.08 L368 238.04 L366.9 236.08 L365.8 239.88 L364.7 240.14 L363.6 238.49 L362.5 237.15 L361.4 240.08 L360.3 237.17 L359.2 238.14 L358.1 241.02 L357 241.45 L355.9 240.18 L354.8 238.75 L353.7 239.35 L352.6 241.77 L351.5 240.64 L350.4 243.83 L349.3 241.71 L348.2 243.79 L347.1 243.2 L346 245.53 L344.9 247.3 L343.8 246.19 L342.7 244.65 L341.6 244.3 L340.5 245.45 L339.4 245.06 L338.3 244.61 L337.2 242.73 L336.1 237.86 L335 242.9 L333.9 246.6 L332.8 242.66 L331.7 239.44 L330.6 236.94 L329.5 235.47Z" fill="#b8b8b8" stroke="#b8b8b8" stroke-width="0.6"/><path d="M70.7 238.72 L71.5 236.18 L72.3 234.26 L73.1 229.82 L73.9 234.01 L74.7 237.61 L75.5 242.5 L76.3 244.78 L77.1 244.44 L77.9 244.87 L78.7 245.29 L79.5 248.41 L80.3 247.58 L81.1 248.11 L81.9 249.84 L82.7 249.32 L83.5 248.09 L84.3 246.6 L85.1 248.3 L85.9 246.32 M90.5 237.5 L92.7 239.7 L94.3 244.2 M98 229.8 L99.4 225.4 M101.8 223.2 L102.6 223.5 M108.8 230.76 L109.6 228.67 L110.4 227.48 L111.2 231.97 L112 235.19 L112.8 239.76 M117.6 251.94 L118.4 253.5 L119.2 255.86 L120 253.41 L120.8 250 L121.6 248.19 L122.4 248.54 L123.2 248.1 L124 251.61 M128 247.5 L128.8 248 M131.7 234.76 L132.5 232.96 L133.3 230.6 L134.1 227.53 L134.9 226.59 L135.7 225.31 L136.5 225.84 L137.3 227.76 L138.1 228.18 L138.9 229.57 L139.7 229.72 L140.5 230.89 L141.3 233.11 L142.1 235.83 L142.9 237.9 L143.7 237.69 L144.5 240.52 L145.3 241.67 L146.1 239.41 L146.9 241.8 L147.7 240.09 L148.5 238.94 L149.3 237.14 L150.1 236.75 L150.9 235.23 L151.7 233.77 L152.5 236.35 L153.3 239.59 M156.5 238.82 L157.3 237.63 L158.1 239.18 L158.9 242.28 L159.7 242.74 L160.5 245.71 L161.3 245.79 L162.1 248.67 M163.7 258.17 L164.5 259.06 L165.3 260.2 L166.1 259.63 L166.9 257.5 L167.7 258.51 L168.5 257.72 L169.3 257.21 L170.1 253.96 L170.9 255.15 L171.7 253.94 L172.5 251.95 L173.3 253.25 L174.1 250.56 L174.9 251.97 L175.7 249.53 L176.5 249.93 L177.3 251.68 L178.1 252.28 L178.9 254.14 L179.7 254.15 L180.5 257.29 L181.3 255.45 L182.1 256.88 L182.9 255.35 L183.7 256.03 L184.5 254.75 L185.3 252.97 L186.1 254.53 L186.9 252.19 L187.7 253.96 L188.5 253.09 L189.3 252.89 L190.1 252.09 L190.9 251.11 L191.7 249.75 L192.5 249.09 L193.3 249.11 L194.1 248.2 L194.9 250.44 L195.7 251.9 L196.5 252.35 L197.3 252.55 L198.1 253.51 L198.9 255.01 L199.7 255.03 L200.5 256.35 L201.3 258.2 L202.1 254.86 L202.9 255.41 L203.7 252.93 L204.5 252.01 L205.3 253.56 L206.1 251.84 L206.9 253.61 L207.7 253.45 L208.5 254.19 L209.3 254.85 L210.1 254.53 L210.9 256.16 L211.7 255.75 L212.5 253.7 M216.1 242.03 L216.9 248.97 L217.7 249.57 L218.5 250.94 L219.3 253.19 L220.1 254.32 L220.9 254.57 L221.7 254.85 L222.5 257 M231.5 240.61 L232.3 243.14 L233.1 243.28 L233.9 242.65 L234.7 243.05 L235.5 243.21 L236.3 244.05 L237.1 243.4 L237.9 243.31 L238.7 242.6 L239.5 243.05 L240.3 243.23 L241.1 242.72 L241.9 243.01 L242.7 242.14 L243.5 241.2 L244.3 240.59 L245.1 240.49 L245.9 240.44 L246.7 239.82 L247.5 235.64 L248.3 233.53 L249.1 237.52 L249.9 238.86 L250.7 243.29 L251.5 243.7 L252.3 245.09 L253.1 248.32 L253.9 250.27 L254.7 251.45 L255.5 249.97 L256.3 250.01 L257.1 250.27 L257.9 247 L258.7 246.14 L259.5 248.25 L260.3 250.87 L261.1 253.5 L261.9 256.24 L262.7 256.4 L263.5 258.18 L264.3 256.47 L265.1 255.59 M268.9 256.44 L269.7 255.14 L270.5 254.44 L271.3 252.31 L272.1 252.14 L272.9 249.07 L273.7 244.65 L274.5 241.51 L275.3 242.21 L276.1 241.08 L276.9 240.78 L277.7 239.72 L278.5 239.24 L279.3 238.83 L280.1 238.42 L280.9 238.68 L281.7 239.86 L282.5 240.27 L283.3 241.62 L284.1 241.36 L284.9 241.64 L285.7 240.8 L286.5 242.05 L287.3 242.08 L288.1 241.66 L288.9 241.59 L289.7 242.8 L290.5 240.56 L291.3 240.39 L292.1 239.24 L292.9 240.21 L293.7 240.38 M302 246.16 L302.8 244.71 L303.6 243.02 L304.4 242.77 L305.2 242.4 L306 243.49 L306.8 242.94 L307.6 243.98 L308.4 242.13 L309.2 241.95 L310 242.16 L310.8 241.08 L311.6 241.76 L312.4 242.04 L313.2 242.99 L314 245.02 L314.8 243.39 L315.6 242.48 L316.4 242.2 L317.2 242.71 L318 244.58 L318.8 243.1 L319.6 242.96 L320.4 242.76 L321.2 242.95 L322 244.27 L322.8 243.32 L323.6 242.33 L324.4 243.12 M329.5 231 L330.6 232.6 L331.7 234.2 L332.8 238.1 L333.9 242 L335 238.1 L336.1 234.2 L337.2 237.55 L338.3 240.9 L339.4 240.5 L340.5 240.1 L341.6 239.7 L342.7 240.47 L343.8 241.23 L344.9 242 L346 240.79 L347.1 239.59 L348.2 238.53 L349.3 238.17 L350.4 238.53 L351.5 236.08 L352.6 237.91 L353.7 235.72 L354.8 235.01 L355.9 235.18 L357 236.43 L358.1 235.93 L359.2 233.53 L360.3 232.69 L361.4 235.64 L362.5 233.11 L363.6 233.16 L364.7 235.14 L365.8 234.86 L366.9 231.71 L368 233.12 L369.1 232.6 L370.2 230.13 L371.3 230.1 L372.4 228.7 L373.5 227.46 L374.6 223.76 L375.7 222.5 L376.8 226.78 L377.9 229.59 L379 227.71 L380.1 230.4 L381.2 229.12 L382.3 229.42 L383.4 230.68 L384.5 232.23 L385.6 231.98 L386.7 232.17 L387.8 230.13 L388.9 229.45 L390 230.86 L391.1 228.83 L392.2 229.6 L393.3 229.62 L394.4 228.07 L395.5 228.39 L396.6 227.5 L397.7 230.08 L398.8 227.33 L399.9 227.96 L401 227.9 L402.1 229.84 L403.2 229.35 L404.3 230.09 L405.4 226.9 L406.5 227.02 L407.6 228.77 L408.7 227.48 L409.8 228.14 L410.9 226.15 L412 227.9 L413.1 227.82 L414.2 226.2 L415.3 227.33 L416.4 226.69 L417.5 224.84 L418.6 226.77 L419.7 227.01 L420.8 226.43 L421.9 224.53 L423 224.72 L424.1 224.95 L425.2 224.29 L426.3 224.87 L427.4 225.51 L428.5 224.15 L429.6 226.68 L430.7 223.77 L431.8 223.22 L432.9 223.86 L434 222.27 L435.1 224.17 L436.2 224.59 L437.3 224.98 L438.4 224.97 L439.5 225.09 L440.6 221.88 L441.7 223.7 L442.8 223.89 L443.9 221.37 L445 222.26 L446.1 221.18 L447.2 224.46 L448.3 223.91 L449.4 222.03 L450.5 221.5 L451.6 221.46 L452.7 222.76 L453.8 221.4 L454.9 219.86 L456 221.19 L457.1 219.41 L458.2 219.24 L459.3 219.06 L460.4 220.25 L461.5 222.57 L462.6 222.22 L463.7 219.7 L464.8 218.96 L465.9 220.75 L467 218.34 L468.1 221.08 L469.2 220.59 L470.3 221.14 L471.4 218.59 L472.5 220.48 L473.6 220.34 L474.7 220.86 L475.8 220.57 L476.9 218.12 L478 220.03 L479.1 220.84 L480.2 220.58 L481.3 220.62 L482.4 220.46 L483.5 220.84 L484.6 220.97 L485.7 220.93 L486.8 220.34 L487.9 221.7 L489 219.11 L490.1 221.44 L491.2 220.24 L492.3 221.7 L493.4 220.03 L494.5 220.64 L495.6 220.55 L496.7 220.21 L497.8 221.05 L498.9 217.57 L500 220.09 L501.1 217.39 L502.2 218.39 L503.3 217.52 L504.4 217.16 L505.5 217.89 L506.6 218.13 L507.7 220.05 L508.8 220.05 L509.9 216.79 L511 216.15 L512.1 219.44 L513.2 217.76 L514.3 216.47 L515.4 216.62 L516.5 215.91 L517.6 218.73 L518.7 216.95 L519.8 216.7 L520.9 217.57 L522 216.48 L523.1 214.97 L524.2 214.7 L525.3 214.48 L526.4 214.66 L527.5 213.78 L528.6 216.36 L529.7 214.92 L530.8 213.91 L531.9 215.68 L533 214.54 L534.1 214.67 L535.2 212.76 L536.3 214.33 L537.4 213.85 L538.5 215.23 L539.6 213.77 L540.7 212.34 L541.8 215.54 L542.9 211.82 L544 215.43 L545.1 215.24 L546.2 213.58 L547.3 214.28 L548.4 213.53 L549.5 213.35 L550.6 212.7 L551.7 212.69 L552.8 213.05 L553.9 215.92 L555 212.87 L556.1 215.7 L557.2 215.94 L558.3 215.76 L559.4 214.73 L560.5 215.96 L561.6 215.66 L562.7 216.9 L563.8 217.05 L564.9 217.28 L566 215.99 L567.1 217.84 L568.2 216.38 L569.3 215.76 L570.4 217.93 L571.5 215.94 L572.6 215.35 L573.7 217.48 L574.8 216.24 L575.9 215.5 L577 216.95 L578.1 218.74 L579.2 215.81 L580.3 217.54 L581.4 217.99 L582.5 217.67 L583.6 217.23 L584.7 219.1 L585.8 217.26 L586.9 219.51 L588 218.64 L589.1 218.76 L590.2 221.26 L591.3 219.23 L592.4 219.52 L593.5 219.49 L594.6 221.82 L595.7 219.44 L596.8 221.11 L597.9 219.75 L599 222.68 L600.1 222.7 L601.2 220.34 L602.3 222.95 L603.4 219.88 L604.5 220.54 L605.6 220.36 L606.7 220.01 L607.8 216.35 L608.9 217.36 L610 218.18 L611.1 216.78 L612.2 219.1 L613.3 219.73 L614.4 219.62 L615.5 217.54 L616.6 217.61 L617.7 218.2 L618.8 217.29 L619.9 218.27 L621 219.36 L622.1 220.63 L623.2 221.17 L624.3 219.27 L625.4 220.8 L626.5 219.59 L627.6 218.39 L628.7 218.52 L629.8 219.14 L630.9 221.53 L632 220.64 L633.1 222.7 L634.2 221.57 L635.3 220.5 L636.4 220.48 L637.5 221.43 L638.6 221.47 L639.7 220.23 L640.8 222.66 L641.9 220.42 L643 221.53 L644.1 221.43 L645.2 222.95 L646.3 220.44 L647.4 221.69 L648.5 220.45 L649.6 219.31 L650.7 218.93 L651.8 217.66 L652.9 219.82 L654 216.53 L655.1 216.18 L656.2 217.11 L657.3 215.64 L658.4 214.88 L659.5 216.45" fill="none" stroke="#2e2e2e" stroke-width="1.35" stroke-linejoin="round"/><path d="M70.7 244.2 L90 243 L110 241.6 L130 240.2 L152 238.7 L163.2 238.2 L163.2 258.5 L165.4 258 L175 255.5 L183 253.2 L195 250.9 L205 249.4 L216 248.2 L227 247.6 L240 247.8 L250 248.3 L262 249.4 L273.3 250.8 L273.3 242 L281 242.6 L290 243.6 L298.7 244.2 L314.1 244.2 L325.1 243.1 L336.1 240.9 L348 238.6 L359.2 234.7 L372.4 229.8 L383.9 226.5 L384.5 233.8 L401.1 229.8 L423.1 225.4 L446 223 L466 220.2 L480 219.6 L494.7 219.3 L494.9 221 L510.1 217.7 L527.7 215.1 L544 214.1 L555.2 214.6 L568.4 216.4 L581.6 218.4 L592.6 220.6 L604.9 222.8 L605.5 216.2 L619 218.8 L634.4 220.6 L647.6 221 L659.7 221" fill="none" stroke="#0a0a0a" stroke-width="1.75" stroke-linejoin="miter"/><path d="M70.9 325.04 L71.8 318.96 L72.7 312.17 L73.6 311.3 L74.5 317.77 L75.4 322.18 L76.3 326.79 L77.2 327.35 L78.1 329.19 L79 329.8 L79.9 330.74 L80.8 330.55 L81.7 330.49 L82.6 331.18 L83.5 334.21 L84.4 332.6 L85.3 333.18 L86.2 332.52 L87.1 332.78 L88 330.13 L88.9 328.28 L89.8 327.7 L90.7 326.44 L91.6 324.3 L92.5 321.73 L93.4 321.7 L94.3 319.97 L95.2 317.56 L96.1 314.64 L97 311.57 L97.9 308.57 L98.8 302.29 L99.7 302.05 L100.6 300.69 L101.5 301.16 L102.4 300.86 L103.3 300.6 L104.2 301.19 L105.1 303.41 L106 305.29 L106.9 308.6 L107.8 308.84 L108.7 309.25 L109.6 312.36 L110.5 312.23 L111.4 313.48 L112.3 317.4 L113.2 318.39 L114.1 322.49 L115 328.74 L115.9 331.74 L116.8 333.54 L117.7 338.59 L118.6 339.91 L119.5 341.52 L120.4 341.85 L121.3 342.39 L122.2 340.13 L123.1 339.8 L124 338.1 L124.9 336.13 L125.8 336.9 L126.7 332.26 L127.6 333.09 L128.5 329.27 L129.4 328.39 L130.3 322.13 L131.2 319.12 L132.1 315.83 L133 311.93 L133.9 309.3 L134.8 308.05 L135.7 304.46 L136.6 302.45 L137.5 301.34 L138.4 302.94 L139.3 306.61 L140.2 307.34 L141.1 309.58 L142 311.58 L142.9 313.98 L143.8 316.82 L144.7 321.15 L145.6 322.75 L146.5 322.61 L147.4 322.38 L148.3 319.65 L149.2 318.92 L150.1 320.12 L151 321.79 L151.9 320.23 L152.8 320.01 L153.7 321.21 L154.6 321.73 L155.5 322.23 L156.4 324.83 L157.3 327.96 L158.2 328.53 L159.1 329.58 L160 327.07 L160.9 323.75 L161.8 322.37 L162.7 321.78 L163.6 319.94 L164.5 317.29 L165.4 316.98 L166.3 316.59 L167.2 315.85 L168.1 316.21 L169 314.28 L169.9 315.14 L170.8 312.02 L171.7 314.21 L172.6 311.06 L173.5 311.12 L174.4 312.62 L175.3 314.38 L176.2 312.8 L177.1 312.68 L178 315.15 L178.9 316.98 L179.8 319.31 L180.7 320.66 L181.6 322.3 L182.5 321.5 L183.4 321.47 L184.3 321.07 L185.2 320.54 L186.1 321.19 L187 319.64 L187.9 320.62 L188.8 320.15 L189.7 320.56 L190.6 319.68 L191.5 321.33 L192.4 318.73 L193.3 318.74 L194.2 317.23 L195.1 316.56 L196 317.41 L196.9 317.34 L197.8 316.74 L198.7 319.08 L199.6 321.11 L200.5 321.88 L201.4 324.54 L202.3 323.41 L203.2 325.39 L204.1 323.1 L205 323.9 L205.9 323.01 L206.8 323.34 L207.7 325.46 L208.6 324.12 L209.5 324.34 L210.4 322.06 L211.3 321.4 L212.2 322.99 L213.1 321.01 L214 318.96 L214.9 320.27 L215.8 320.28 L216.7 319.25 L217.6 319.53 L218.5 322.82 L219.4 322.22 L220.3 322.5 L221.2 324.14 L222.1 323.07 L223 323.09 L223.9 325.65 L224.8 323.22 L225.7 323.34 L226.6 325.06 L227.5 323.42 L228.4 320.9 L229.3 320.95 L230.2 319.62 L231.1 319.51 L232 318.96 L232.9 319.19 L233.8 320.36 L234.7 320.03 L235.6 319.09 L236.5 317.81 L237.4 318.51 L238.3 319.85 L239.2 318.45 L240.1 318.18 L241 319.22 L241.9 319.12 L242.8 318.88 L243.7 317.59 L244.6 315.11 L245.5 312.86 L246.4 311.91 L247.3 308.57 L248.2 309.76 L249.1 310.62 L250 315.24 L250.9 318.59 L251.8 321.92 L252.7 325.98 L253.6 330.58 L254.5 334.47 L255.4 332.76 L256.3 331.21 L257.2 328.35 L258.1 332.8 L259 335.9 L259.9 337.35 L260.8 338.7 L261.7 338.38 L262.6 341.49 L263.5 342.51 L264.4 341.38 L265.3 342 L266.2 339.31 L267.1 337.45 L268 337.65 L268.9 336.78 L269.8 338.77 L270.7 338.75 L271.6 336.18 L272.5 336.96 L273.4 336.91 L274.3 340.57 L275.2 340.4 L276.1 341.29 L277 340.18 L277.9 339.14 L278.8 336.42 L279.7 333.54 L280.6 332.55 L281.5 329.9 L282.4 327.89 L283.3 326.62 L284.2 327.38 L285.1 328.93 L286 330.47 L286.9 331.19 L287.8 332.99 L288.7 330.93 L289.6 332.06 L290.5 332.33 L291.4 333.5 L292.3 333.1 L293.2 331.63 L294.1 328.7 L295 329.02 L295.9 331.15 L296.8 334.28 L297.7 334.09 L298.6 335.78 L299.5 335.89 L300.4 335.47 L301.3 336.13 L302.2 334 L303.1 335.36 L304 334.75 L304.9 334.19 L305.8 336.26 L306.7 336.33 L307.6 335.66 L308.5 335.44 L309.4 335.04 L310.3 333.48 L311.2 332.93 L312.1 334.25 L313 333.83 L313.9 334.89 L314.8 333.15 L315.7 330.33 L316.6 333.66 L317.5 333.23 L318.4 336.94 L319.3 335.42 L320.2 337 L321.1 334.87 L322 334.29 L322.9 333.07 L323.8 332.81 L324.7 332.54 L325.6 329.24 L326.5 327.53 L327.4 324.57 L328.3 321.19 L329.2 319.81 L330.1 322.38 L331 325.71 L331.9 329.13 L332.8 331.67 L333.7 338.1 L334.6 334.66 L335.5 331.23 L336.4 330.48 L337.3 331.52 L338.2 333.41 L339.1 335.39 L340 337.3 L340.9 335.52 L341.8 332.65 L342.7 331.6 L343.6 333.45 L344.5 332.97 L345.4 334.74 L346.3 332.69 L347.2 333.03 L348.1 331.17 L349 332.98 L349.9 335.02 L350.8 336.96 L351.7 339.2 L352.6 338.75 L353.5 335.05 L354.4 332.87 L355.3 331.32 L356.2 331.42 L357.1 331.01 L358 331.65 L358.9 331.68 L359.8 330.29 L360.7 330.46 L361.6 332.09 L362.5 332.93 L363.4 332.03 L364.3 331.93 L365.2 330.81 L366.1 330.94 L367 331.2 L367.9 331.88 L368.8 333.81 L369.7 335.35 L370.6 334.11 L371.5 332.88 L372.4 330.93 L373.3 329.48 L374.2 327.78 L375.1 325.22 L376 329.05 L376.9 331.57 L377.8 336.1 L378.7 337.06 L379.6 339.62 L380.5 341.43 L381.4 343.52 L382.3 342.51 L383.2 345.91 L384.1 337.68 L385 330.72 L385.9 329.91 L386.8 332.5 L387.7 333.02 L388.6 332.73 L389.5 332.8 L390.4 333.34 L391.3 334.63 L392.2 334.02 L393.1 334.93 L394 335.76 L394.9 335.44 L395.8 334.69 L396.7 332.57 L397.6 333.73 L398.5 332.67 L399.4 333.77 L400.3 331.58 L401.2 331.82 L402.1 333.72 L403 333.61 L403.9 331.9 L404.8 333.43 L405.7 333.95 L406.6 332.67 L407.5 333.55 L408.4 332.86 L409.3 330.51 L410.2 328.74 L411.1 329.89 L412 327.27 L412.9 327.2 L413.8 327.77 L414.7 330.33 L415.6 331.46 L416.5 331.75 L417.4 332.91 L418.3 332.96 L419.2 333.68 L420.1 332.06 L421 333.12 L421.9 333.94 L422.8 331.91 L423.7 333.67 L424.6 334.08 L425.5 332.77 L426.4 332.06 L427.3 332.05 L428.2 331.45 L429.1 331.81 L430 330.86 L430.9 331.88 L431.8 333.44 L432.7 332.47 L433.6 335.4 L434.5 335.17 L435.4 334.78 L436.3 334.11 L437.2 335.97 L438.1 336.1 L439 334.57 L439.9 333.84 L440.8 334.8 L441.7 333.62 L442.6 332.43 L443.5 332.19 L444.4 331.18 L445.3 333.39 L446.2 332.11 L447.1 334.47 L448 334.2 L448.9 332.38 L449.8 331.82 L450.7 329.35 L451.6 331.04 L452.5 331.49 L453.4 334.07 L454.3 334.71 L455.2 335.75 L456.1 334.89 L457 333.12 L457.9 331.23 L458.8 329.08 L459.7 328.87 L460.6 330.41 L461.5 330.08 L462.4 329.78 L463.3 328.96 L464.2 327.55 L465.1 326.97 L466 324.84 L466.9 325.7 L467.8 324.97 L468.7 327.08 L469.6 326.62 L470.5 330.17 L471.4 329.53 L472.3 331.3 L473.2 331.19 L474.1 328.73 L475 328.44 L475.9 328 L476.8 327.9 L477.7 325.48 L478.6 326.94 L479.5 329.43 L480.4 329.07 L481.3 329.13 L482.2 330.77 L483.1 331.14 L484 330.18 L484.9 330.38 L485.8 332.71 L486.7 334.18 L487.6 333.49 L488.5 333.16 L489.4 332.73 L490.3 332.22 L491.2 332.44 L492.1 333.49 L493 336.05 L493.9 336.28 L494.8 332.46 L495.7 331.4 L496.6 331.55 L497.5 329.55 L498.4 329.82 L499.3 330.37 L500.2 331.24 L501.1 329.24 L502 328.49 L502.9 328.07 L503.8 327.94 L504.7 329.59 L505.6 330.19 L506.5 330.28 L507.4 330.74 L508.3 330.97 L509.2 331.97 L510.1 330.98 L511 329.7 L511.9 330.8 L512.8 331.66 L513.7 331.7 L514.6 330.72 L515.5 330.42 L516.4 328.73 L517.3 330.12 L518.2 330.86 L519.1 332.27 L520 333.99 L520.9 337.02 L521.8 337.91 L522.7 336.51 L523.6 334.56 L524.5 331.27 L525.4 329.72 L526.3 329.17 L527.2 331.3 L528.1 329.57 L529 331.33 L529.9 330.55 L530.8 330.07 L531.7 329.25 L532.6 329.47 L533.5 328.94 L534.4 329.73 L535.3 328.54 L536.2 328.61 L537.1 329.95 L538 332.57 L538.9 334.28 L539.8 336.78 L540.7 333.13 L541.6 333.05 L542.5 333.27 L543.4 332.24 L544.3 333.05 L545.2 332.09 L546.1 331.96 L547 330.95 L547.9 329.84 L548.8 330.08 L549.7 330.65 L550.6 329.58 L551.5 328.99 L552.4 329.89 L553.3 328.52 L554.2 329.24 L555.1 330.98 L556 328.99 L556.9 328.44 L557.8 328.27 L558.7 327.86 L559.6 327.61 L560.5 328.35 L561.4 328.18 L562.3 326.2 L563.2 327.8 L564.1 327.98 L565 328.38 L565.9 328.18 L566.8 329.02 L567.7 329.9 L568.6 330 L569.5 331.33 L570.4 330.29 L571.3 331.58 L572.2 333.46 L573.1 331.05 L574 329.79 L574.9 329.34 L575.8 329.51 L576.7 329.33 L577.6 328.09 L578.5 328.29 L579.4 328.23 L580.3 325.46 L581.2 323.81 L582.1 323.65 L583 327.02 L583.9 329.79 L584.8 332.37 L585.7 330.92 L586.6 332.82 L587.5 331.74 L588.4 332.24 L589.3 331.84 L590.2 329.77 L591.1 328.82 L592 330.16 L592.9 328.36 L593.8 329.98 L594.7 329.53 L595.6 330.24 L596.5 330.19 L597.4 331.47 L598.3 331.53 L599.2 329.87 L600.1 329.71 L601 328.48 L601.9 325.69 L602.8 322.86 L603.7 323.22 L604.6 326.02 L605.5 329.48 L606.4 330.2 L607.3 329.53 L608.2 330.41 L609.1 328.21 L610 328.62 L610.9 329.81 L611.8 330.08 L612.7 331.95 L613.6 331.15 L614.5 331.39 L615.4 331.3 L616.3 330.15 L617.2 329.43 L618.1 328.45 L619 327.91 L619.9 328.93 L620.8 326.7 L621.7 326.01 L622.6 326.99 L623.5 327.42 L624.4 327.85 L625.3 329.85 L626.2 331.34 L627.1 331.49 L628 330.76 L628.9 330.76 L629.8 330.91 L630.7 330.52 L631.6 328.7 L632.5 328.67 L633.4 328.89 L634.3 330.1 L635.2 330.65 L636.1 330.92 L637 330.54 L637.9 329.31 L638.8 328.74 L639.7 330.02 L640.6 329.94 L641.5 330.94 L642.4 329.6 L643.3 330.66 L644.2 329.44 L645.1 327.88 L646 327.79 L646.9 327.93 L647.8 327.43 L648.7 327.45 L649.6 327.87 L650.5 331.46 L651.4 331.79 L652.3 333.65 L653.2 332.81 L654.1 330.34 L655 329.78 L655.9 329.48 L656.8 326.22 L657.7 323.29 L658.6 328.12 L658.6 341.48 L657.7 337.28 L656.8 339.52 L655.9 341.43 L655 344.45 L654.1 345.74 L653.2 345.13 L652.3 346.14 L651.4 345.5 L650.5 342.78 L649.6 343.31 L648.7 341.48 L647.8 342.08 L646.9 342.16 L646 342.89 L645.1 343.39 L644.2 342.42 L643.3 341.81 L642.4 343.47 L641.5 341.81 L640.6 342.22 L639.7 341.57 L638.8 342.26 L637.9 342.94 L637 342.97 L636.1 343.85 L635.2 344.53 L634.3 343.82 L633.4 343.79 L632.5 342.75 L631.6 343.11 L630.7 342.51 L629.8 343.34 L628.9 344.71 L628 344.25 L627.1 342.88 L626.2 342.37 L625.3 342.96 L624.4 343.22 L623.5 341.9 L622.6 340.58 L621.7 341.12 L620.8 341.63 L619.9 340.6 L619 342.83 L618.1 343.02 L617.2 342.64 L616.3 342.52 L615.4 341.97 L614.5 342.52 L613.6 343.39 L612.7 343.23 L611.8 345.1 L610.9 344.12 L610 344.06 L609.1 343.21 L608.2 340.98 L607.3 342.44 L606.4 342.35 L605.5 343.65 L604.6 340.71 L603.7 336.23 L602.8 335.38 L601.9 338.93 L601 342.52 L600.1 342.55 L599.2 343.64 L598.3 343.24 L597.4 343.72 L596.5 343.79 L595.6 342.51 L594.7 342.01 L593.8 341.36 L592.9 343.58 L592 342.37 L591.1 344.31 L590.2 344.52 L589.3 343.66 L588.4 344.48 L587.5 346 L586.6 344.31 L585.7 345.62 L584.8 343.57 L583.9 342.98 L583 339.36 L582.1 336.35 L581.2 339.1 L580.3 340.37 L579.4 340.5 L578.5 342.84 L577.6 343.65 L576.7 343.01 L575.8 343.42 L574.9 344.56 L574 345.36 L573.1 345.36 L572.2 344.2 L571.3 345.13 L570.4 345.21 L569.5 342.95 L568.6 343.14 L567.7 342.64 L566.8 342.92 L565.9 343.16 L565 342.1 L564.1 341.34 L563.2 340.35 L562.3 340.79 L561.4 338.82 L560.5 339.25 L559.6 340.59 L558.7 340.94 L557.8 341.73 L556.9 342.76 L556 343.41 L555.1 342.03 L554.2 343.18 L553.3 343.32 L552.4 341.37 L551.5 342.35 L550.6 342.35 L549.7 341.89 L548.8 343.06 L547.9 344.45 L547 344.55 L546.1 344.76 L545.2 345.71 L544.3 344.75 L543.4 345.56 L542.5 344.53 L541.6 345.95 L540.7 348.57 L539.8 347.62 L538.9 345.81 L538 343.22 L537.1 343.01 L536.2 343.37 L535.3 342.46 L534.4 340.37 L533.5 340.26 L532.6 339.83 L531.7 340.95 L530.8 341.03 L529.9 341.49 L529 341.65 L528.1 343.83 L527.2 342.1 L526.3 344.33 L525.4 344.68 L524.5 344.03 L523.6 344.69 L522.7 348.22 L521.8 350.31 L520.9 347.68 L520 347.19 L519.1 345.93 L518.2 344.64 L517.3 343.06 L516.4 343.47 L515.5 340.8 L514.6 341.68 L513.7 342.5 L512.8 343.74 L511.9 343.7 L511 343.9 L510.1 343.12 L509.2 343.03 L508.3 344.33 L507.4 343.66 L506.5 343.22 L505.6 342.38 L504.7 342.03 L503.8 342.76 L502.9 341.73 L502 340.41 L501.1 341.23 L500.2 341.12 L499.3 343.03 L498.4 343.58 L497.5 343.85 L496.6 342.71 L495.7 343.73 L494.8 347.14 L493.9 349.52 L493 346.15 L492.1 346.91 L491.2 346.16 L490.3 346.05 L489.4 346.41 L488.5 346.84 L487.6 345.61 L486.7 344.02 L485.8 344.09 L484.9 344.62 L484 343.11 L483.1 341.17 L482.2 340.55 L481.3 341.3 L480.4 340.5 L479.5 339.17 L478.6 339.86 L477.7 339.52 L476.8 337.7 L475.9 339.4 L475 340.77 L474.1 342.37 L473.2 341.8 L472.3 341.37 L471.4 342.2 L470.5 340.23 L469.6 341.08 L468.7 337.92 L467.8 338.73 L466.9 337.1 L466 337.93 L465.1 337.52 L464.2 338.67 L463.3 339.04 L462.4 340.02 L461.5 340.62 L460.6 339.39 L459.7 340.03 L458.8 342.2 L457.9 342.82 L457 343.62 L456.1 344.44 L455.2 346.16 L454.3 345.09 L453.4 343.03 L452.5 343.27 L451.6 341.84 L450.7 341.65 L449.8 341.96 L448.9 344.18 L448 343.12 L447.1 341.99 L446.2 343.49 L445.3 341.31 L444.4 342.62 L443.5 341.88 L442.6 342.83 L441.7 342.85 L440.8 342.87 L439.9 344.48 L439 344.33 L438.1 343.38 L437.2 343.96 L436.3 345.23 L435.4 343.95 L434.5 342.96 L433.6 341.63 L432.7 342.84 L431.8 340.15 L430.9 340.65 L430 340.69 L429.1 339.41 L428.2 340.26 L427.3 340.15 L426.4 340.63 L425.5 340.42 L424.6 339.32 L423.7 339.73 L422.8 341.49 L421.9 339.46 L421 340.28 L420.1 341.06 L419.2 338.95 L418.3 339.19 L417.4 338.74 L416.5 339.41 L415.6 337.99 L414.7 336.79 L413.8 337.02 L412.9 335.26 L412 336.53 L411.1 335.71 L410.2 338.66 L409.3 338.69 L408.4 338.14 L407.5 339.25 L406.6 340.73 L405.7 339.45 L404.8 339.97 L403.9 341.5 L403 339.79 L402.1 339.68 L401.2 341.58 L400.3 341.82 L399.4 339.63 L398.5 340.73 L397.6 340.37 L396.7 342.43 L395.8 341.21 L394.9 341.36 L394 341.94 L393.1 342.35 L392.2 342.68 L391.3 341.49 L390.4 342.12 L389.5 341.4 L388.6 340.22 L387.7 338.68 L386.8 338.1 L385.9 339.79 L385 338.08 L384.1 347.43 L383.2 351.4 L382.3 352.6 L381.4 349.26 L380.5 348.57 L379.6 347.6 L378.7 346.04 L377.8 342.5 L376.9 341.9 L376 338.04 L375.1 335.49 L374.2 335.37 L373.3 337.22 L372.4 339.31 L371.5 340.72 L370.6 341.29 L369.7 341.85 L368.8 342.13 L367.9 341.29 L367 339.6 L366.1 339.01 L365.2 338.28 L364.3 338.13 L363.4 339.91 L362.5 339.85 L361.6 337.91 L360.7 336.76 L359.8 338.38 L358.9 339.65 L358 341.33 L357.1 340.09 L356.2 337.8 L355.3 339.64 L354.4 340.88 L353.5 343.06 L352.6 346.9 L351.7 346.51 L350.8 342.82 L349.9 341 L349 340.39 L348.1 340.04 L347.2 340.03 L346.3 342.22 L345.4 342.03 L344.5 343.59 L343.6 340.33 L342.7 339.4 L341.8 343.6 L340.9 345.97 L340 345.5 L339.1 343.81 L338.2 342.19 L337.3 341.3 L336.4 339.55 L335.5 340.96 L334.6 343.64 L333.7 346.3 L332.8 342.75 L331.9 335.31 L331 331.75 L330.1 330.49 L329.2 329.4 L328.3 331.7 L327.4 332 L326.5 333.72 L325.6 337.17 L324.7 338.57 L323.8 339.28 L322.9 340 L322 341.51 L321.1 344.53 L320.2 345 L319.3 345.68 L318.4 343.26 L317.5 344.03 L316.6 340.08 L315.7 341.29 L314.8 341.25 L313.9 342.29 L313 343.5 L312.1 342.49 L311.2 343.2 L310.3 342.31 L309.4 342.51 L308.5 343.84 L307.6 345.38 L306.7 345.47 L305.8 344.34 L304.9 345.21 L304 343.45 L303.1 342.83 L302.2 344.77 L301.3 343.23 L300.4 344.47 L299.5 343.58 L298.6 343.09 L297.7 344.17 L296.8 342.51 L295.9 341.05 L295 338.6 L294.1 339.97 L293.2 339.7 L292.3 340.3 L291.4 339.9 L290.5 341.07 L289.6 341.34 L288.7 342.11 L287.8 339.4 L286.9 340.54 L286 340.61 L285.1 339.77 L284.2 338.75 L283.3 338.08 L282.4 337.71 L281.5 336.6 L280.6 339.73 L279.7 345.12 L278.8 347.01 L277.9 347.08 L277 348.82 L276.1 348.57 L275.2 350.32 L274.3 348.99 L273.4 348.97 L272.5 345.24 L271.6 348.8 L270.7 349.01 L269.8 349.23 L268.9 349.42 L268 346.75 L267.1 349.73 L266.2 350.65 L265.3 350.7 L264.4 354.02 L263.5 354.89 L262.6 352.31 L261.7 351.82 L260.8 348.52 L259.9 347.21 L259 345.7 L258.1 343.31 L257.2 342.28 L256.3 341.24 L255.4 345.18 L254.5 346.11 L253.6 342.72 L252.7 340.04 L251.8 337.06 L250.9 333.43 L250 329.87 L249.1 341.17 L248.2 339.52 L247.3 339.09 L246.4 340.67 L245.5 338.61 L244.6 340.55 L243.7 339.55 L242.8 341.02 L241.9 339.42 L241 339.24 L240.1 340.67 L239.2 339.55 L238.3 340.84 L237.4 340.18 L236.5 341.8 L235.6 342.79 L234.7 340.88 L233.8 342.27 L232.9 344.26 L232 342.73 L231.1 343.41 L230.2 345.11 L229.3 344 L228.4 349.1 L227.5 350.66 L226.6 352.43 L225.7 355.48 L224.8 357.03 L223.9 357.65 L223 357.58 L222.1 360.15 L221.2 359.85 L220.3 357.5 L219.4 356.58 L218.5 355.98 L217.6 353.77 L216.7 354.62 L215.8 354.67 L214.9 352.22 L214 354.7 L213.1 352.52 L212.2 353.76 L211.3 355.6 L210.4 358.78 L209.5 358.62 L208.6 363.06 L207.7 363.63 L206.8 364.55 L205.9 363.01 L205 363.8 L204.1 362.89 L203.2 361.67 L202.3 362.25 L201.4 359.51 L200.5 359.42 L199.6 360.69 L198.7 357.22 L197.8 356.48 L196.9 354.89 L196 354.15 L195.1 351.63 L194.2 350.28 L193.3 352.28 L192.4 353.2 L191.5 352.53 L190.6 352.09 L189.7 352.41 L188.8 354.08 L187.9 354.37 L187 354.94 L186.1 354.94 L185.2 354.19 L184.3 356.18 L183.4 355.24 L182.5 357.97 L181.6 358.27 L180.7 356.31 L179.8 356.78 L178.9 355.51 L178 355.17 L177.1 354.66 L176.2 353.74 L175.3 353.97 L174.4 353.5 L173.5 350.25 L172.6 349.88 L171.7 350.11 L170.8 350.28 L169.9 350.71 L169 349.31 L168.1 349.73 L167.2 347.91 L166.3 349.6 L165.4 350.18 L164.5 353.9 L163.6 361.21 L162.7 365.2 L161.8 366.28 L160.9 367.17 L160 365.31 L159.1 363.06 L158.2 361.96 L157.3 361.24 L156.4 358.53 L155.5 358.34 L154.6 355.87 L153.7 352.5 L152.8 352.73 L151.9 351.23 L151 350.03 L150.1 345.4 L149.2 352.45 L148.3 353.59 L147.4 355.84 L146.5 354.07 L145.6 355.39 L144.7 351.88 L143.8 346.33 L142.9 343.12 L142 339.67 L141.1 339.52 L140.2 336.77 L139.3 337.23 L138.4 333.68 L137.5 333.17 L136.6 338.44 L135.7 339.09 L134.8 343.91 L133.9 344.7 L133 348.17 L132.1 351.28 L131.2 355.75 L130.3 359.57 L129.4 362.18 L128.5 364.36 L127.6 365.23 L126.7 367.01 L125.8 367.24 L124.9 368.42 L124 369.37 L123.1 372.17 L122.2 371.94 L121.3 376.37 L120.4 376.93 L119.5 379.15 L118.6 381.1 L117.7 374.73 L116.8 369.91 L115.9 363.9 L115 358.07 L114.1 353.5 L113.2 350.44 L112.3 344.92 L111.4 343.32 L110.5 344.21 L109.6 341.17 L108.7 340.75 L107.8 340.88 L106.9 336.47 L106 335.95 L105.1 332.88 L104.2 330.85 L103.3 329.42 L102.4 327.36 L101.5 325.22 L100.6 326.14 L99.7 326.58 L98.8 324.49 L97.9 328.86 L97 333.61 L96.1 338.99 L95.2 342.65 L94.3 344.82 L93.4 346.13 L92.5 348.74 L91.6 349.72 L90.7 349.97 L89.8 353.03 L88.9 355.22 L88 353.8 L87.1 354.5 L86.2 357.03 L85.3 358.51 L84.4 359.06 L83.5 361.19 L82.6 363.65 L81.7 367.81 L80.8 368.2 L79.9 359.59 L79 353.4 L78.1 351.8 L77.2 346.04 L76.3 342.58 L75.4 339.06 L74.5 333.02 L73.6 327.6 L72.7 325.96 L71.8 327.72 L70.9 331.77Z" fill="#b8b8b8" stroke="#b8b8b8" stroke-width="0.5"/><path d="M70.9 328.57 L71.9 319.4 L72.9 317.7 L73.9 323.93 L74.9 331.57 L75.9 329.18 L76.9 335.36 L77.9 342.14 L78.9 340.1 L79.9 344.65 L80.9 350.1 L81.9 347.86 L82.9 344.79 L83.9 344.23 L84.9 345.35 L85.9 345.25 L86.9 343.9 L87.9 341.84 L88.9 337.52 L89.9 331.41 L90.9 332.18 L91.9 334 L92.9 337.23 L93.9 334.64 L94.9 331.31 L95.9 325.85 L96.9 322.08 L97.9 317.24 L98.9 312.11 L99.9 312.86 L100.9 311.99 L101.9 311.86 L102.9 313.26 L103.9 315.22 L104.9 318.52 L105.9 321.12 L106.9 324.95 L107.9 329.97 L108.9 334.1 L109.9 336.09 L110.9 328.95 L111.9 323.69 L112.9 332.01 L113.9 337.95 L114.9 345.26 L115.9 348.04 L116.9 353.12 L117.9 356.85 L118.9 360.3 L119.9 357.57 L120.9 353.14 L121.9 352.57 L122.9 351.86 L123.9 351.02 L124.9 349.04 L125.9 348.74 L126.9 349.66 L127.9 350.23 L128.9 348.89 L129.9 343.72 L130.9 337.63 L131.9 331.38 L132.9 327.63 L133.9 325.8 L134.9 323.16 L135.9 320.5 L136.9 317.21 L137.9 318.5 L138.9 318.76 L139.9 320.24 L140.9 323.04 L141.9 326.37 L142.9 329.08 L143.9 331.84 L144.9 334.99 L145.9 338.4 L146.9 339.72 L147.9 338.44 L148.9 334.67 L149.9 332.88 L150.9 331.86 L151.9 331.22 L152.9 334.7 L153.9 337.55 L154.9 341.47 L155.9 341.52 L156.9 343.33 L157.9 344.63 L158.9 346.42 L159.9 345.96 L160.9 350.29 L161.9 354.35 L162.9 339.44 L163.9 330.67 L164.9 335.8 L165.9 337.05 L166.9 337.51 L167.9 338.13 L168.9 336.95 L169.9 334.55 L170.9 331.98 L171.9 329.55 L172.9 330.94 L173.9 330.32 L174.9 329.85 L175.9 329.51 L176.9 327.95 L177.9 328.51 L178.9 331.52 L179.9 336.05 L180.9 335.86 L181.9 333.65 L182.9 335.03 L183.9 337.09 L184.9 338.73 L185.9 339.18 L186.9 338.04 L187.9 337.6 L188.9 340.61 L189.9 338.53 L190.9 337.7 L191.9 336.64 L192.9 335.25 L193.9 333.4 L194.9 333.79 L195.9 334.69 L196.9 334.12 L197.9 338.65 L198.9 340.52 L199.9 341.83 L200.9 342.92 L201.9 342.8 L202.9 339.75 L203.9 341.08 L204.9 342.5 L205.9 345.44 L206.9 347.15 L207.9 347.03 L208.9 347.86 L209.9 344.41 L210.9 342.48 L211.9 340.51 L212.9 337.62 L213.9 337.21 L214.9 333.51 L215.9 331.63 L216.9 333.19 L217.9 336.2 L218.9 341.91 L219.9 343.67 L220.9 344.17 L221.9 346.57 L222.9 347.43 L223.9 347.06 L224.9 342.85 L225.9 340.53 L226.9 337.84 L227.9 333.4 L228.9 332.35 L229.9 331.8 L230.9 330.63 L231.9 330.11 L232.9 330.17 L233.9 329.75 L234.9 330.21 L235.9 331.81 L236.9 330.77 L237.9 329.72 L238.9 329.16 L239.9 328.24 L240.9 328.14 L241.9 329.63 L242.9 328.06 L243.9 328.19 L244.9 326.82 L245.9 327.83 L246.9 325.67 L247.9 319.31 L248.9 317.21 L249.9 320.98 L250.9 325.41 L251.9 330.06 L252.9 334.41 L253.9 337.24 L254.9 339.94 L255.9 336.79 L256.9 334.55 L257.9 338.4 L258.9 340.54 L259.9 341.32 L260.9 344.22 L261.9 344.99 L262.9 346.6 L263.9 348.98 L264.9 346.12 L265.9 344.73 L266.9 344.81 L267.9 343.03 L268.9 342.79 L269.9 343.89 L270.9 342.99 L271.9 342.19 L272.9 341.72 L273.9 343.22 L274.9 344.98 L275.9 345.68 L276.9 343.93 L277.9 342.47 L278.9 340.78 L279.9 339.07 L280.9 335.72 L281.9 333.14 L282.9 331.77 L283.9 332.12 L284.9 333.64 L285.9 334.99 L286.9 335.55 L287.9 335.88 L288.9 336.93 L289.9 335.88 L290.9 336.01 L291.9 337.28 L292.9 335.5 L293.9 334.74 L294.9 333.62 L295.9 336.16 L296.9 339.51 L297.9 338.82 L298.9 338.63 L299.9 339.06 L300.9 340.69 L301.9 339.52 L302.9 338.73 L303.9 338.84 L304.9 339.17 L305.9 340.7 L306.9 340.3 L307.9 340.44 L308.9 339.76 L309.9 337.82 L310.9 338.92 L311.9 337.97 L312.9 339.61 L313.9 338.3 L314.9 336.97 L315.9 336.04 L316.9 337.85 L317.9 338.57 L318.9 339.97 L319.9 340.72 L320.9 339.84 L321.9 338.09 L322.9 335.78 L323.9 336.46 L324.9 334.66 L325.9 332.39 L326.9 329.89 L327.9 326.58 L328.9 325.51 L329.9 326.42 L330.9 327.81 L331.9 332.39 L332.9 337.88 L333.9 342.45 L334.9 338.76 L335.9 334.54 L336.9 336.16 L337.9 337.15 L338.9 338.65 L339.9 340.67 L340.9 340.14 L341.9 337.76 L342.9 335.82 L343.9 336.43 L344.9 337.94 L345.9 337.52 L346.9 336.67 L347.9 335.48 L348.9 335.63 L349.9 337.05 L350.9 340.04 L351.9 342.99 L352.9 341.26 L353.9 338.28 L354.9 335.12 L355.9 334.95 L356.9 335.83 L357.9 335.54 L358.9 335.75 L359.9 333.49 L360.9 333.3 L361.9 334.95 L362.9 336.6 L363.9 334.45 L364.9 334.25 L365.9 334.51 L366.9 335.8 L367.9 336.95 L368.9 338.7 L369.9 339.26 L370.9 337.39 L371.9 335.14 L372.9 334.98 L373.9 331.32 L374.9 331.03 L375.9 333.77 L376.9 336.12 L377.9 339.29 L378.9 342.19 L379.9 343.91 L380.9 346.17 L381.9 346.14 L382.9 348.39 L383.9 343.62 L384.9 335.15 L385.9 335.38 L386.9 336.01 L387.9 335.26 L388.9 337.09 L389.9 336.53 L390.9 338.61 L391.9 338.01 L392.9 337.96 L393.9 339.12 L394.9 337.47 L395.9 338.58 L396.9 338.26 L397.9 337.86 L398.9 336.45 L399.9 336.2 L400.9 337.57 L401.9 337.54 L402.9 337.54 L403.9 337.54 L404.9 336.98 L405.9 335.71 L406.9 337.18 L407.9 336.89 L408.9 334.4 L409.9 333.5 L410.9 332.54 L411.9 332.55 L412.9 331.45 L413.9 331.61 L414.9 333.89 L415.9 334.77 L416.9 336.22 L417.9 336.18 L418.9 335.92 L419.9 335.85 L420.9 335.85 L421.9 337.13 L422.9 336.95 L423.9 336.29 L424.9 337.42 L425.9 335.65 L426.9 336.93 L427.9 335.32 L428.9 336.06 L429.9 335.27 L430.9 335.5 L431.9 336.52 L432.9 338.36 L433.9 339.17 L434.9 339.66 L435.9 339.1 L436.9 340.5 L437.9 338.96 L438.9 338.85 L439.9 340.02 L440.9 338.85 L441.9 338.61 L442.9 337.64 L443.9 336.25 L444.9 336.75 L445.9 338.07 L446.9 338.08 L447.9 339.1 L448.9 339.01 L449.9 336.66 L450.9 336.37 L451.9 336.87 L452.9 338.76 L453.9 339.29 L454.9 341.78 L455.9 340.07 L456.9 339.07 L457.9 337.69 L458.9 336.23 L459.9 334.32 L460.9 334.29 L461.9 334.44 L462.9 335.25 L463.9 332.79 L464.9 333.13 L465.9 331.44 L466.9 331.28 L467.9 332.8 L468.9 332.86 L469.9 333.43 L470.9 336.21 L471.9 335.28 L472.9 336.73 L473.9 336.36 L474.9 334.65 L475.9 334.48 L476.9 331.91 L477.9 332.35 L478.9 334.49 L479.9 335.2 L480.9 335.08 L481.9 335.12 L482.9 335.32 L483.9 337.28 L484.9 336.97 L485.9 338.92 L486.9 339.01 L487.9 339.92 L488.9 339.13 L489.9 339.47 L490.9 339.68 L491.9 339.84 L492.9 341.07 L493.9 342.33 L494.9 340.15 L495.9 337.98 L496.9 336.3 L497.9 337.64 L498.9 337.5 L499.9 336.74 L500.9 336.28 L501.9 335.16 L502.9 335.45 L503.9 336.12 L504.9 335.02 L505.9 335.87 L506.9 337.39 L507.9 338.04 L508.9 336.97 L509.9 337.08 L510.9 336.41 L511.9 338.01 L512.9 337.6 L513.9 337.35 L514.9 336.24 L515.9 335.46 L516.9 337.36 L517.9 337.96 L518.9 338.36 L519.9 340.17 L520.9 341.68 L521.9 345.16 L522.9 341.13 L523.9 339.68 L524.9 337.12 L525.9 337.21 L526.9 336.39 L527.9 337.12 L528.9 336.99 L529.9 336.86 L530.9 335.49 L531.9 334.57 L532.9 334.87 L533.9 333.85 L534.9 335.54 L535.9 334.91 L536.9 337.12 L537.9 338.4 L538.9 340.53 L539.9 342.21 L540.9 339.58 L541.9 338.41 L542.9 339.69 L543.9 337.95 L544.9 338.5 L545.9 337.6 L546.9 337.91 L547.9 337.41 L548.9 335.73 L549.9 335.36 L550.9 335.44 L551.9 335.74 L552.9 335.58 L553.9 335.59 L554.9 335.56 L555.9 336.85 L556.9 336.46 L557.9 334.57 L558.9 335.23 L559.9 333.36 L560.9 333.62 L561.9 333.43 L562.9 334.84 L563.9 334.05 L564.9 335.89 L565.9 335.17 L566.9 335.43 L567.9 335.47 L568.9 336.21 L569.9 336.53 L570.9 338.87 L571.9 337.77 L572.9 339.05 L573.9 337.81 L574.9 336.2 L575.9 336.18 L576.9 336.17 L577.9 336.09 L578.9 334.98 L579.9 332.92 L580.9 331.38 L581.9 330.29 L582.9 332.98 L583.9 337.23 L584.9 337.26 L585.9 337.91 L586.9 338.63 L587.9 339.21 L588.9 337.75 L589.9 337.24 L590.9 337.64 L591.9 335.32 L592.9 335.14 L593.9 335.07 L594.9 336.25 L595.9 336.01 L596.9 337 L597.9 337.98 L598.9 336.96 L599.9 335.93 L600.9 336.41 L601.9 332.22 L602.9 327.86 L603.9 331.13 L604.9 335.41 L605.9 335.84 L606.9 336.19 L607.9 334.93 L608.9 335.18 L609.9 337.26 L610.9 336.81 L611.9 337.44 L612.9 336.97 L613.9 336.5 L614.9 335.97 L615.9 335.47 L616.9 336.75 L617.9 336.05 L618.9 334.47 L619.9 333.95 L620.9 335.06 L621.9 334.03 L622.9 333.42 L623.9 336.03 L624.9 336.24 L625.9 336.55 L626.9 336.33 L627.9 336.6 L628.9 337.32 L629.9 336.36 L630.9 336.23 L631.9 335.77 L632.9 335.75 L633.9 336.28 L634.9 338.14 L635.9 337.55 L636.9 337.77 L637.9 335.73 L638.9 335.13 L639.9 336.3 L640.9 335.46 L641.9 337.46 L642.9 335.92 L643.9 336.74 L644.9 335.58 L645.9 335.93 L646.9 334.63 L647.9 335.13 L648.9 333.93 L649.9 336.35 L650.9 337.45 L651.9 338.52 L652.9 340.17 L653.9 337.45 L654.9 336.27 L655.9 336.33 L656.9 333.28 L657.9 329.76 L658.9 336.09" fill="none" stroke="#333" stroke-width="1.3" stroke-linejoin="round"/><rect x="52.5" y="14.3" width="619.1" height="369.3" fill="none" stroke="#505050" stroke-width="1.1"/><line x1="52.5" y1="199.0" x2="671.6" y2="199.0" stroke="#7a7a7a" stroke-width="1.6"/><line x1="52.5" y1="291.3" x2="671.6" y2="291.3" stroke="#505050" stroke-width="1.1"/><g stroke="#505050" stroke-width="1"><line x1="63.56" y1="383.6" x2="63.56" y2="385.8"/><line x1="91.19" y1="383.6" x2="91.19" y2="385.8"/><line x1="118.83" y1="383.6" x2="118.83" y2="386.6"/><line x1="146.47" y1="383.6" x2="146.47" y2="385.8"/><line x1="174.11" y1="383.6" x2="174.11" y2="385.8"/><line x1="201.75" y1="383.6" x2="201.75" y2="385.8"/><line x1="229.39" y1="383.6" x2="229.39" y2="386.6"/><line x1="257.02" y1="383.6" x2="257.02" y2="385.8"/><line x1="284.66" y1="383.6" x2="284.66" y2="385.8"/><line x1="312.3" y1="383.6" x2="312.3" y2="385.8"/><line x1="339.94" y1="383.6" x2="339.94" y2="386.6"/><line x1="367.58" y1="383.6" x2="367.58" y2="385.8"/><line x1="395.22" y1="383.6" x2="395.22" y2="385.8"/><line x1="422.85" y1="383.6" x2="422.85" y2="385.8"/><line x1="450.49" y1="383.6" x2="450.49" y2="386.6"/><line x1="478.13" y1="383.6" x2="478.13" y2="385.8"/><line x1="505.77" y1="383.6" x2="505.77" y2="385.8"/><line x1="533.41" y1="383.6" x2="533.41" y2="385.8"/><line x1="561.05" y1="383.6" x2="561.05" y2="386.6"/><line x1="588.68" y1="383.6" x2="588.68" y2="385.8"/><line x1="616.32" y1="383.6" x2="616.32" y2="385.8"/><line x1="643.96" y1="383.6" x2="643.96" y2="385.8"/><line x1="671.6" y1="383.6" x2="671.6" y2="386.6"/><line x1="49.5" y1="24.8" x2="52.5" y2="24.8"/><line x1="49.5" y1="51.5" x2="52.5" y2="51.5"/><line x1="49.5" y1="78.3" x2="52.5" y2="78.3"/><line x1="49.5" y1="105.0" x2="52.5" y2="105.0"/><line x1="49.5" y1="131.7" x2="52.5" y2="131.7"/><line x1="49.5" y1="158.4" x2="52.5" y2="158.4"/><line x1="49.5" y1="185.2" x2="52.5" y2="185.2"/><line x1="49.5" y1="214.38" x2="52.5" y2="214.38"/><line x1="49.5" y1="229.77" x2="52.5" y2="229.77"/><line x1="49.5" y1="245.15" x2="52.5" y2="245.15"/><line x1="49.5" y1="260.53" x2="52.5" y2="260.53"/><line x1="49.5" y1="275.92" x2="52.5" y2="275.92"/><line x1="49.5" y1="314.38" x2="52.5" y2="314.38"/><line x1="49.5" y1="337.45" x2="52.5" y2="337.45"/><line x1="49.5" y1="360.53" x2="52.5" y2="360.53"/></g><g font-family="'Liberation Serif', serif" stroke="#262626" stroke-width="0.22" stroke-opacity="0.7"><text x="118.83" y="395.8" font-size="10.4" text-anchor="middle" font-weight="normal" font-style="normal" fill="#262626" textLength="23.5" lengthAdjust="spacingAndGlyphs">4000</text><text x="229.39" y="395.8" font-size="10.4" text-anchor="middle" font-weight="normal" font-style="normal" fill="#262626" textLength="23.5" lengthAdjust="spacingAndGlyphs">5000</text><text x="339.94" y="395.8" font-size="10.4" text-anchor="middle" font-weight="normal" font-style="normal" fill="#262626" textLength="23.5" lengthAdjust="spacingAndGlyphs">6000</text><text x="450.49" y="395.8" font-size="10.4" text-anchor="middle" font-weight="normal" font-style="normal" fill="#262626" textLength="23.5" lengthAdjust="spacingAndGlyphs">7000</text><text x="561.05" y="395.8" font-size="10.4" text-anchor="middle" font-weight="normal" font-style="normal" fill="#262626" textLength="23.5" lengthAdjust="spacingAndGlyphs">8000</text><text x="671.6" y="395.8" font-size="10.4" text-anchor="middle" font-weight="normal" font-style="normal" fill="#262626" textLength="23.5" lengthAdjust="spacingAndGlyphs">9000</text><text x="46.4" y="217.78" font-size="10.4" text-anchor="end" font-weight="normal" font-style="normal" fill="#262626">1%</text><text x="46.4" y="233.17" font-size="10.4" text-anchor="end" font-weight="normal" font-style="normal" fill="#262626">0</text><text x="46.4" y="248.55" font-size="10.4" text-anchor="end" font-weight="normal" font-style="normal" fill="#262626">-1%</text><text x="46.4" y="263.93" font-size="10.4" text-anchor="end" font-weight="normal" font-style="normal" fill="#262626">-2%</text><text x="46.4" y="279.32" font-size="10.4" text-anchor="end" font-weight="normal" font-style="normal" fill="#262626">-3%</text><text x="46.2" y="317.77" font-size="10.4" text-anchor="end" font-weight="normal" font-style="normal" fill="#262626">1%</text><text x="46.2" y="340.85" font-size="10.4" text-anchor="end" font-weight="normal" font-style="normal" fill="#262626">0</text><text x="46.2" y="363.93" font-size="10.4" text-anchor="end" font-weight="normal" font-style="normal" fill="#262626">-1%</text><text x="130" y="94.3" font-size="12.6" text-anchor="start" font-weight="normal" font-style="normal" fill="#262626" textLength="16.6" lengthAdjust="spacingAndGlyphs">CN</text><text x="130" y="283.4" font-size="12.6" text-anchor="start" font-weight="normal" font-style="normal" fill="#262626" textLength="16.6" lengthAdjust="spacingAndGlyphs">CN</text><text x="130" y="372" font-size="12.6" text-anchor="start" font-weight="normal" font-style="normal" fill="#262626" textLength="16.6" lengthAdjust="spacingAndGlyphs">CN</text><text x="236.7" y="115.5" font-size="12.6" fill="#262626" textLength="24" lengthAdjust="spacingAndGlyphs">Mg<tspan font-style="italic">b</tspan></text><text x="236.7" y="222.0" font-size="12.6" fill="#262626" textLength="24" lengthAdjust="spacingAndGlyphs">Mg<tspan font-style="italic">b</tspan></text><text x="236.7" y="372.3" font-size="12.6" fill="#262626" textLength="24" lengthAdjust="spacingAndGlyphs">Mg<tspan font-style="italic">b</tspan></text><text x="572.6" y="73.2" font-size="12.6" text-anchor="start" font-weight="normal" font-style="normal" fill="#262626" textLength="19" lengthAdjust="spacingAndGlyphs">NaI</text><text x="572.6" y="244.9" font-size="12.6" text-anchor="start" font-weight="normal" font-style="normal" fill="#262626" textLength="19" lengthAdjust="spacingAndGlyphs">NaI</text><text x="572.6" y="372" font-size="12.6" text-anchor="start" font-weight="normal" font-style="normal" fill="#262626" textLength="19" lengthAdjust="spacingAndGlyphs">NaI</text><text x="616.7" y="99.3" font-size="12.6" text-anchor="start" font-weight="normal" font-style="normal" fill="#262626" textLength="22" lengthAdjust="spacingAndGlyphs">CaII</text><text x="616.7" y="244.9" font-size="12.6" text-anchor="start" font-weight="normal" font-style="normal" fill="#262626" textLength="22" lengthAdjust="spacingAndGlyphs">CaII</text><text x="616.7" y="372" font-size="12.6" text-anchor="start" font-weight="normal" font-style="normal" fill="#262626" textLength="22" lengthAdjust="spacingAndGlyphs">CaII</text><text x="506.2" y="273.1" font-size="11.6" text-anchor="start" font-weight="bold" font-style="normal" fill="#111" textLength="106.3" lengthAdjust="spacingAndGlyphs">Spectral difference</text><text x="384.8" y="310.3" font-size="11.6" text-anchor="start" font-weight="bold" font-style="normal" fill="#111" textLength="256.3" lengthAdjust="spacingAndGlyphs">Spectral difference (absorption features only)</text><text x="254.4" y="9.8" font-size="12.8" font-weight="bold" fill="#111" textLength="103.2" lengthAdjust="spacingAndGlyphs">10.5&lt; logM[M<tspan font-size="7.5" dy="2" font-weight="normal">⊙</tspan><tspan dy="-2">]</tspan></text><text x="363.6" y="9.8" font-size="12.8" font-weight="bold" fill="#111" textLength="107.2" lengthAdjust="spacingAndGlyphs">&lt; 11.0 (0-0.5 R<tspan font-size="8.5" dy="2" font-style="italic" font-weight="normal">e</tspan><tspan dy="-2">)</tspan></text><text x="303.7" y="414.5" font-size="15.6" font-weight="bold" fill="#111" textLength="117.5" lengthAdjust="spacingAndGlyphs">Wavelength [<tspan font-style="italic">Å</tspan>]</text><g transform="translate(33.6,167.5) rotate(-90)"><text x="1" y="-3.2" font-size="15.5" font-style="italic" fill="#262626" stroke="#262626" stroke-width="0.35">f</text><text x="6.4" y="0.2" font-size="12" font-style="italic" fill="#262626">λ</text><text x="17.8" y="0" font-size="12.6" fill="#262626" textLength="103.6" lengthAdjust="spacingAndGlyphs">[erg s<tspan font-size="9" dy="-5">−1</tspan><tspan dy="5"> cm</tspan><tspan font-size="9" dy="-5">−2</tspan><tspan dy="5"> </tspan><tspan font-style="italic">Å</tspan>]</text></g><g transform="translate(13.3,270.3) rotate(-90)"><text x="0" y="0" font-size="17" fill="#ff7f0e" stroke="#ff7f0e">f</text><text x="5.61" y="2.21" font-size="12.58" font-style="italic" fill="#ff7f0e" stroke="#ff7f0e">λ</text></g><rect x="8.9" y="248.9" width="1.6" height="3.8" fill="#262626" stroke="none"/><g transform="translate(13.3,236.8) rotate(-90)"><text x="0" y="0" font-size="17" fill="#1f77b4" stroke="#1f77b4">f</text><text x="5.61" y="2.21" font-size="12.58" font-style="italic" fill="#1f77b4" stroke="#1f77b4">λ</text></g><g transform="translate(12.9,368.6) rotate(-90)"><text x="0" y="0" font-size="14" fill="#ff7f0e" stroke="#ff7f0e">f</text><text x="4.62" y="1.82" font-size="10.36" font-style="italic" fill="#ff7f0e" stroke="#ff7f0e">λ</text></g><rect x="9.0" y="351.5" width="1.4" height="2.8" fill="#262626" stroke="none"/><g transform="translate(12.9,342.2) rotate(-90)"><text x="0" y="0" font-size="14" fill="#1f77b4" stroke="#1f77b4">f</text><text x="4.62" y="1.82" font-size="10.36" font-style="italic" fill="#1f77b4" stroke="#1f77b4">λ</text></g><rect x="9.0" y="326.4" width="1.4" height="2.8" fill="#262626" stroke="none"/><text transform="translate(12.9,322) rotate(-90)" x="0" y="0" font-size="14" fill="#262626" textLength="12.9" lengthAdjust="spacingAndGlyphs">fit</text></g><g font-family="'Liberation Serif', serif"><rect x="487.3" y="173.5" width="178.3" height="19.5" rx="2.2" fill="#fff" fill-opacity="0.85" stroke="#d0d0d0" stroke-width="0.9"/><line x1="489.9" y1="182.5" x2="513.6" y2="182.5" stroke="#ff7f0e" stroke-width="2.5"/><line x1="585.1" y1="182.6" x2="607.5" y2="182.6" stroke="#8fbbd9" stroke-width="1.6"/><text x="522.2" y="186.3" font-size="12" fill="#262626" stroke="#262626" stroke-width="0.22" stroke-opacity="0.7" textLength="41.5" lengthAdjust="spacingAndGlyphs">Low-M<tspan font-size="8.5" font-style="italic" dy="1.8">h</tspan></text><text x="616.3" y="186.3" font-size="12" fill="#262626" stroke="#262626" stroke-width="0.22" stroke-opacity="0.7" textLength="45.8" lengthAdjust="spacingAndGlyphs">High-M<tspan font-size="8.5" font-style="italic" dy="1.8">h</tspan></text></g></svg></body></html>
